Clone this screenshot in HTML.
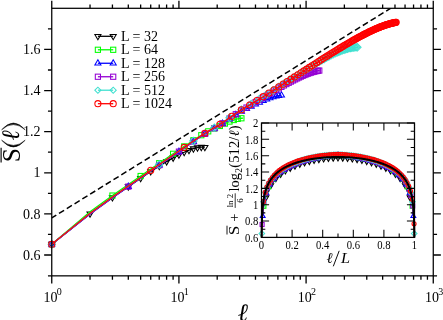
<!DOCTYPE html>
<html><head><meta charset="utf-8"><title>S(l)</title>
<style>html,body{margin:0;padding:0;background:#fff;}svg{display:block;font-family:"Liberation Serif",serif;will-change:transform;}</style></head><body>
<svg width="443" height="320" viewBox="0 0 443 320">
<rect width="443" height="320" fill="#fff"/>
<defs>
<clipPath id="cm"><rect x="51.75" y="8.30" width="381.51" height="267.55"/></clipPath>
<clipPath id="ci"><rect x="257.50" y="123.00" width="161.00" height="114.40"/></clipPath>
</defs>
<g fill="none" stroke-linejoin="miter">
<path clip-path="url(#cm)" d="M51.75 217.90L458.37 -33.62" stroke="#000" stroke-width="1.5" stroke-dasharray="6.0 3.16" stroke-dashoffset="0.65"/>
<g stroke="#000000">
<path d="M51.75 244.25L90.03 213.69L112.43 197.50L128.31 186.62L140.64 178.23L150.71 171.53L159.22 166.08L166.60 161.57L173.10 157.83L178.92 154.74L184.18 152.23L188.99 150.20L193.41 148.65L197.50 147.61L201.31 147.13L204.88 147.20" stroke-width="1.3"/>
<g stroke-width="1.05">
<path d="M51.75 247.78L48.70 242.49L54.80 242.49Z"/>
<path d="M90.03 217.21L86.98 211.93L93.08 211.93Z"/>
<path d="M112.43 201.02L109.38 195.74L115.48 195.74Z"/>
<path d="M128.31 190.15L125.26 184.86L131.36 184.86Z"/>
<path d="M140.64 181.75L137.59 176.47L143.69 176.47Z"/>
<path d="M150.71 175.05L147.66 169.77L153.76 169.77Z"/>
<path d="M159.22 169.60L156.17 164.31L162.27 164.31Z"/>
<path d="M166.60 165.09L163.55 159.81L169.65 159.81Z"/>
<path d="M173.10 161.35L170.05 156.07L176.15 156.07Z"/>
<path d="M178.92 158.26L175.87 152.98L181.97 152.98Z"/>
<path d="M184.18 155.75L181.13 150.47L187.23 150.47Z"/>
<path d="M188.99 153.72L185.94 148.44L192.04 148.44Z"/>
<path d="M193.41 152.17L190.36 146.89L196.46 146.89Z"/>
<path d="M197.50 151.14L194.45 145.85L200.55 145.85Z"/>
<path d="M201.31 150.65L198.26 145.36L204.36 145.36Z"/>
<path d="M204.88 150.72L201.83 145.44L207.93 145.44Z"/>
</g></g>
<g stroke="#00ff00">
<path d="M51.75 244.25L90.03 211.81L112.43 195.57L128.31 184.58L140.64 176.01L150.71 169.03L159.22 163.20L166.60 158.19L173.10 153.80L178.92 149.91L184.18 146.41L188.99 143.19L193.41 140.24L197.50 137.58L201.31 135.21L204.88 133.13L208.23 131.36L211.38 129.84L214.37 128.47L217.20 127.19L219.90 125.96L222.47 124.75L224.92 123.59L227.27 122.52L229.53 121.57L231.69 120.74L233.78 120.02L235.79 119.39L237.72 118.88L239.60 118.50L241.41 118.27L243.16 118.20" stroke-width="1.3"/>
<g stroke-width="1.05">
<rect x="49.16" y="241.66" width="5.18" height="5.18"/>
<rect x="109.83" y="192.98" width="5.18" height="5.18"/>
<rect x="138.05" y="173.42" width="5.18" height="5.18"/>
<rect x="156.63" y="160.61" width="5.18" height="5.18"/>
<rect x="170.51" y="151.21" width="5.18" height="5.18"/>
<rect x="181.59" y="143.81" width="5.18" height="5.18"/>
<rect x="190.82" y="137.65" width="5.18" height="5.18"/>
<rect x="198.72" y="132.61" width="5.18" height="5.18"/>
<rect x="205.63" y="128.77" width="5.18" height="5.18"/>
<rect x="211.78" y="125.88" width="5.18" height="5.18"/>
<rect x="217.30" y="123.37" width="5.18" height="5.18"/>
<rect x="222.33" y="121.00" width="5.18" height="5.18"/>
<rect x="226.93" y="118.97" width="5.18" height="5.18"/>
<rect x="231.18" y="117.43" width="5.18" height="5.18"/>
<rect x="235.13" y="116.29" width="5.18" height="5.18"/>
<rect x="238.81" y="115.68" width="5.18" height="5.18"/>
</g></g>
<g stroke="#0000ff">
<path d="M51.75 244.25L90.03 213.87L112.43 197.62L128.31 186.62L140.64 178.03L150.71 171.02L159.22 165.16L166.60 160.10L173.10 155.64L178.92 151.66L184.18 148.07L188.99 144.74L193.41 141.64L197.50 138.82L201.31 136.26L204.88 133.97L208.23 131.95L211.38 130.16L214.37 128.48L217.20 126.87L219.90 125.26L222.47 123.63L224.92 122.02L227.27 120.46L229.53 118.97L231.69 117.56L233.78 116.21L235.79 114.91L237.72 113.67L239.60 112.52L241.41 111.46L243.16 110.50L244.86 109.62L246.51 108.80L248.11 108.00L249.66 107.22L251.18 106.45L252.65 105.71L254.09 105.00L255.48 104.32L256.85 103.66L258.18 103.03L259.48 102.42L260.75 101.84L261.99 101.28L263.20 100.75L264.39 100.24L265.55 99.76L266.69 99.30L267.81 98.87L268.90 98.45L269.97 98.07L271.03 97.70L272.06 97.36L273.07 97.04L274.07 96.75L275.04 96.47L276.01 96.22L276.95 96.00L277.88 95.79L278.79 95.61L279.69 95.45L280.57 95.31L281.44 95.20" stroke-width="1.3"/>
<g stroke-width="1.05">
<path d="M51.75 240.73L48.70 246.01L54.80 246.01Z"/>
<path d="M128.31 183.10L125.26 188.38L131.36 188.38Z"/>
<path d="M159.22 161.63L156.17 166.92L162.27 166.92Z"/>
<path d="M178.92 148.14L175.87 153.43L181.97 153.43Z"/>
<path d="M193.41 138.12L190.36 143.41L196.46 143.41Z"/>
<path d="M204.88 130.44L201.83 135.73L207.93 135.73Z"/>
<path d="M214.37 124.96L211.32 130.24L217.42 130.24Z"/>
<path d="M222.47 120.11L219.42 125.39L225.52 125.39Z"/>
<path d="M229.53 115.45L226.48 120.73L232.58 120.73Z"/>
<path d="M235.79 111.39L232.74 116.67L238.84 116.67Z"/>
<path d="M241.41 107.93L238.36 113.22L244.46 113.22Z"/>
<path d="M246.51 105.27L243.46 110.56L249.56 110.56Z"/>
<path d="M251.18 102.93L248.13 108.22L254.23 108.22Z"/>
<path d="M255.48 100.80L252.43 106.08L258.53 106.08Z"/>
<path d="M259.48 98.90L256.43 104.18L262.53 104.18Z"/>
<path d="M263.20 97.23L260.15 102.51L266.25 102.51Z"/>
<path d="M266.69 95.78L263.64 101.06L269.74 101.06Z"/>
<path d="M269.97 94.55L266.92 99.83L273.02 99.83Z"/>
<path d="M273.07 93.52L270.02 98.80L276.12 98.80Z"/>
<path d="M276.01 92.70L272.96 97.99L279.06 97.99Z"/>
<path d="M278.79 92.09L275.74 97.37L281.84 97.37Z"/>
<path d="M281.44 91.68L278.39 96.96L284.49 96.96Z"/>
</g></g>
<g stroke="#9400d3">
<path d="M51.75 244.25L90.03 213.87L112.43 197.62L128.31 186.62L140.64 178.02L150.71 171.02L159.22 165.14L166.60 160.08L173.10 155.62L178.92 151.63L184.18 148.02L188.99 144.68L193.41 141.58L197.50 138.73L201.31 136.15L204.88 133.84L208.23 131.80L211.38 129.97L214.37 128.26L217.20 126.61L219.90 124.96L222.47 123.29L224.92 121.64L227.27 120.02L229.53 118.47L231.69 117.00L233.78 115.59L235.79 114.21L237.72 112.90L239.60 111.66L241.41 110.51L243.16 109.45L244.86 108.48L246.51 107.55L248.11 106.64L249.66 105.74L251.18 104.84L252.65 103.97L254.09 103.12L255.48 102.28L256.85 101.47L258.18 100.67L259.48 99.89L260.75 99.13L261.99 98.38L263.20 97.65L264.39 96.94L265.55 96.24L266.69 95.56L267.81 94.89L268.90 94.24L269.97 93.60L271.03 92.97L272.06 92.35L273.07 91.75L274.07 91.16L275.04 90.59L276.01 90.02L276.95 89.47L277.88 88.92L278.79 88.39L279.69 87.87L280.57 87.36L281.44 86.86L282.30 86.38L283.14 85.90L283.97 85.43L284.79 84.97L285.60 84.51L286.39 84.07L287.17 83.64L287.95 83.21L288.71 82.80L289.46 82.39L290.20 81.99L290.93 81.60L291.66 81.21L292.37 80.83L293.07 80.47L293.77 80.10L294.45 79.75L295.13 79.41L295.80 79.07L296.46 78.73L297.11 78.41L297.76 78.09L298.40 77.78L299.03 77.48L299.65 77.18L300.27 76.89L300.88 76.61L301.48 76.33L302.08 76.06L302.67 75.80L303.26 75.54L303.84 75.29L304.41 75.05L304.97 74.81L305.53 74.58L306.09 74.36L306.64 74.14L307.18 73.92L307.72 73.72L308.26 73.52L308.78 73.32L309.31 73.14L309.83 72.95L310.34 72.78L310.85 72.61L311.35 72.45L311.85 72.29L312.35 72.14L312.84 71.99L313.33 71.85L313.81 71.71L314.29 71.59L314.76 71.46L315.23 71.35L315.70 71.24L316.16 71.13L316.62 71.03L317.07 70.94L317.52 70.85L317.97 70.77L318.41 70.69L318.85 70.62L319.29 70.56L319.72 70.50" stroke-width="1.3"/>
<g stroke-width="1.05">
<rect x="49.16" y="241.66" width="5.18" height="5.18"/>
<rect x="125.72" y="184.02" width="5.18" height="5.18"/>
<rect x="156.63" y="162.55" width="5.18" height="5.18"/>
<rect x="176.33" y="149.04" width="5.18" height="5.18"/>
<rect x="190.82" y="138.98" width="5.18" height="5.18"/>
<rect x="202.29" y="131.24" width="5.18" height="5.18"/>
<rect x="211.78" y="125.67" width="5.18" height="5.18"/>
<rect x="219.87" y="120.70" width="5.18" height="5.18"/>
<rect x="226.93" y="115.88" width="5.18" height="5.18"/>
<rect x="233.19" y="111.62" width="5.18" height="5.18"/>
<rect x="238.81" y="107.92" width="5.18" height="5.18"/>
<rect x="243.92" y="104.95" width="5.18" height="5.18"/>
<rect x="248.59" y="102.25" width="5.18" height="5.18"/>
<rect x="252.89" y="99.69" width="5.18" height="5.18"/>
<rect x="256.89" y="97.30" width="5.18" height="5.18"/>
<rect x="260.61" y="95.06" width="5.18" height="5.18"/>
<rect x="264.10" y="92.97" width="5.18" height="5.18"/>
<rect x="267.38" y="91.00" width="5.18" height="5.18"/>
<rect x="270.48" y="89.16" width="5.18" height="5.18"/>
<rect x="273.41" y="87.43" width="5.18" height="5.18"/>
<rect x="276.20" y="85.80" width="5.18" height="5.18"/>
<rect x="278.85" y="84.27" width="5.18" height="5.18"/>
<rect x="281.38" y="82.83" width="5.18" height="5.18"/>
<rect x="283.80" y="81.48" width="5.18" height="5.18"/>
<rect x="286.12" y="80.20" width="5.18" height="5.18"/>
<rect x="288.34" y="79.00" width="5.18" height="5.18"/>
<rect x="290.48" y="77.87" width="5.18" height="5.18"/>
<rect x="292.54" y="76.81" width="5.18" height="5.18"/>
<rect x="294.52" y="75.82" width="5.18" height="5.18"/>
<rect x="296.44" y="74.89" width="5.18" height="5.18"/>
<rect x="298.29" y="74.02" width="5.18" height="5.18"/>
<rect x="300.08" y="73.21" width="5.18" height="5.18"/>
<rect x="301.82" y="72.46" width="5.18" height="5.18"/>
<rect x="303.50" y="71.76" width="5.18" height="5.18"/>
<rect x="305.13" y="71.13" width="5.18" height="5.18"/>
<rect x="306.72" y="70.54" width="5.18" height="5.18"/>
<rect x="308.26" y="70.02" width="5.18" height="5.18"/>
<rect x="309.76" y="69.54" width="5.18" height="5.18"/>
<rect x="311.22" y="69.12" width="5.18" height="5.18"/>
<rect x="312.64" y="68.75" width="5.18" height="5.18"/>
<rect x="314.03" y="68.44" width="5.18" height="5.18"/>
<rect x="315.38" y="68.18" width="5.18" height="5.18"/>
<rect x="316.70" y="67.97" width="5.18" height="5.18"/>
</g></g>
<g stroke="#40e0d0">
<path d="M51.75 244.25L90.03 213.25L112.43 197.00L128.31 186.00L140.64 177.41L150.71 170.40L159.22 164.53L166.60 159.46L173.10 155.00L178.92 151.01L184.18 147.40L188.99 144.06L193.41 140.95L197.50 138.10L201.31 135.52L204.88 133.20L208.23 131.16L211.38 129.33L214.37 127.62L217.20 125.96L219.90 124.31L222.47 122.63L224.92 120.97L227.27 119.35L229.53 117.79L231.69 116.31L233.78 114.89L235.79 113.51L237.72 112.18L239.60 110.93L241.41 109.77L243.16 108.71L244.86 107.72L246.51 106.77L248.11 105.85L249.66 104.94L251.18 104.03L252.65 103.13L254.09 102.26L255.48 101.41L256.85 100.58L258.18 99.76L259.48 98.96L260.75 98.17L261.99 97.40L263.20 96.65L264.39 95.91L265.55 95.19L266.69 94.47L267.81 93.78L268.90 93.09L269.97 92.42L271.03 91.76L272.06 91.11L273.07 90.47L274.07 89.85L275.04 89.23L276.01 88.63L276.95 88.03L277.88 87.45L278.79 86.87L279.69 86.31L280.57 85.75L281.44 85.20L282.30 84.67L283.14 84.13L283.97 83.61L284.79 83.10L285.60 82.59L286.39 82.09L287.17 81.60L287.95 81.11L288.71 80.63L289.46 80.16L290.20 79.69L290.93 79.23L291.66 78.78L292.37 78.33L293.07 77.89L293.77 77.45L294.45 77.02L295.13 76.59L295.80 76.17L296.46 75.76L297.11 75.35L297.76 74.94L298.40 74.54L299.03 74.15L299.65 73.76L300.27 73.37L300.88 72.99L301.48 72.62L302.08 72.24L302.67 71.88L303.26 71.51L303.84 71.15L304.41 70.80L304.97 70.45L305.53 70.10L306.09 69.76L306.64 69.42L307.18 69.08L307.72 68.75L308.26 68.42L308.78 68.10L309.31 67.78L309.83 67.46L310.34 67.15L310.85 66.83L311.35 66.53L311.85 66.22L312.35 65.92L312.84 65.63L313.33 65.33L313.81 65.04L314.29 64.75L314.76 64.47L315.23 64.19L315.70 63.91L316.16 63.63L316.62 63.36L317.07 63.09L317.52 62.82L317.97 62.56L318.41 62.30L318.85 62.04L319.29 61.78L319.72 61.53L320.15 61.28L320.58 61.04L321.00 60.79L321.42 60.55L321.84 60.31L322.25 60.08L322.66 59.84L323.07 59.61L323.48 59.39L323.88 59.16L324.28 58.94L324.67 58.72L325.07 58.50L325.46 58.29L325.84 58.07L326.23 57.86L326.61 57.66L326.99 57.45L327.37 57.25L327.74 57.05L328.11 56.85L328.48 56.66L328.85 56.46L329.22 56.27L329.58 56.08L329.94 55.90L330.29 55.71L330.65 55.53L331.00 55.35L331.35 55.18L331.70 55.00L332.05 54.83L332.39 54.66L332.73 54.49L333.07 54.32L333.41 54.16L333.75 54.00L334.08 53.84L334.41 53.68L334.74 53.53L335.07 53.37L335.40 53.22L335.72 53.07L336.04 52.92L336.36 52.78L336.68 52.64L337.00 52.49L337.31 52.36L337.62 52.22L337.94 52.08L338.25 51.95L338.55 51.82L338.86 51.69L339.16 51.56L339.47 51.44L339.77 51.32L340.07 51.19L340.36 51.08L340.66 50.96L340.95 50.84L341.25 50.73L341.54 50.62L341.83 50.51L342.12 50.40L342.40 50.30L342.69 50.19L342.97 50.09L343.26 49.99L343.54 49.89L343.82 49.79L344.10 49.70L344.37 49.61L344.65 49.52L344.92 49.43L345.19 49.34L345.47 49.26L345.74 49.17L346.00 49.09L346.27 49.01L346.54 48.93L346.80 48.86L347.07 48.78L347.33 48.71L347.59 48.64L347.85 48.57L348.11 48.50L348.37 48.44L348.62 48.38L348.88 48.31L349.13 48.25L349.38 48.20L349.64 48.14L349.89 48.09L350.14 48.03L350.38 47.98L350.63 47.93L350.88 47.89L351.12 47.84L351.37 47.80L351.61 47.76L351.85 47.72L352.09 47.68L352.33 47.64L352.57 47.61L352.81 47.57L353.04 47.54L353.28 47.51L353.51 47.48L353.75 47.46L353.98 47.43L354.21 47.41L354.44 47.39L354.67 47.37L354.90 47.35L355.13 47.34L355.35 47.33L355.58 47.31L355.81 47.30L356.03 47.30L356.25 47.29L356.47 47.28L356.70 47.28L356.92 47.28L357.14 47.28L357.35 47.28L357.57 47.29L357.79 47.29L358.01 47.30" stroke-width="1.3"/>
<g stroke-width="1.05">
<path d="M48.03 244.25L51.75 240.53L55.47 244.25L51.75 247.97Z"/>
<path d="M155.50 164.53L159.22 160.81L162.94 164.53L159.22 168.25Z"/>
<path d="M189.69 140.95L193.41 137.23L197.13 140.95L193.41 144.67Z"/>
<path d="M210.65 127.62L214.37 123.90L218.09 127.62L214.37 131.34Z"/>
<path d="M225.81 117.79L229.53 114.07L233.25 117.79L229.53 121.51Z"/>
<path d="M237.69 109.77L241.41 106.05L245.13 109.77L241.41 113.49Z"/>
<path d="M247.46 104.03L251.18 100.30L254.90 104.03L251.18 107.75Z"/>
<path d="M255.76 98.96L259.48 95.24L263.20 98.96L259.48 102.68Z"/>
<path d="M262.97 94.47L266.69 90.75L270.41 94.47L266.69 98.20Z"/>
<path d="M269.35 90.47L273.07 86.75L276.79 90.47L273.07 94.19Z"/>
<path d="M275.07 86.87L278.79 83.15L282.51 86.87L278.79 90.59Z"/>
<path d="M280.25 83.61L283.97 79.89L287.69 83.61L283.97 87.33Z"/>
<path d="M284.99 80.63L288.71 76.91L292.43 80.63L288.71 84.35Z"/>
<path d="M289.35 77.89L293.07 74.16L296.79 77.89L293.07 81.61Z"/>
<path d="M293.39 75.35L297.11 71.63L300.84 75.35L297.11 79.07Z"/>
<path d="M297.16 72.99L300.88 69.27L304.60 72.99L300.88 76.71Z"/>
<path d="M300.69 70.80L304.41 67.08L308.13 70.80L304.41 74.52Z"/>
<path d="M304.00 68.75L307.72 65.03L311.44 68.75L307.72 72.47Z"/>
<path d="M307.13 66.83L310.85 63.11L314.57 66.83L310.85 70.56Z"/>
<path d="M310.09 65.04L313.81 61.32L317.53 65.04L313.81 68.76Z"/>
<path d="M312.90 63.36L316.62 59.64L320.34 63.36L316.62 67.08Z"/>
<path d="M315.57 61.78L319.29 58.06L323.01 61.78L319.29 65.51Z"/>
<path d="M318.12 60.31L321.84 56.59L325.56 60.31L321.84 64.03Z"/>
<path d="M320.56 58.94L324.28 55.22L328.00 58.94L324.28 62.66Z"/>
<path d="M322.89 57.66L326.61 53.94L330.33 57.66L326.61 61.38Z"/>
<path d="M325.13 56.46L328.85 52.74L332.57 56.46L328.85 60.18Z"/>
<path d="M327.28 55.35L331.00 51.63L334.72 55.35L331.00 59.07Z"/>
<path d="M329.35 54.32L333.07 50.60L336.79 54.32L333.07 58.04Z"/>
<path d="M331.35 53.37L335.07 49.65L338.79 53.37L335.07 57.09Z"/>
<path d="M333.28 52.49L337.00 48.77L340.72 52.49L337.00 56.22Z"/>
<path d="M335.14 51.69L338.86 47.97L342.58 51.69L338.86 55.41Z"/>
<path d="M336.94 50.96L340.66 47.24L344.38 50.96L340.66 54.68Z"/>
<path d="M338.68 50.30L342.40 46.57L346.13 50.30L342.40 54.02Z"/>
<path d="M340.37 49.70L344.10 45.98L347.82 49.70L344.10 53.42Z"/>
<path d="M342.01 49.17L345.74 45.45L349.46 49.17L345.74 52.89Z"/>
<path d="M343.61 48.71L347.33 44.99L351.05 48.71L347.33 52.43Z"/>
<path d="M345.16 48.31L348.88 44.59L352.60 48.31L348.88 52.04Z"/>
<path d="M346.66 47.98L350.38 44.26L354.10 47.98L350.38 51.70Z"/>
<path d="M348.13 47.72L351.85 43.99L355.57 47.72L351.85 51.44Z"/>
<path d="M349.56 47.51L353.28 43.79L357.00 47.51L353.28 51.23Z"/>
<path d="M350.95 47.37L354.67 43.65L358.39 47.37L354.67 51.09Z"/>
<path d="M352.31 47.30L356.03 43.57L359.75 47.30L356.03 51.02Z"/>
<path d="M353.63 47.28L357.35 43.56L361.08 47.28L357.35 51.00Z"/>
</g></g>
<g stroke="#ff0000">
<path d="M51.75 244.25L90.03 213.25L112.43 197.00L128.31 186.00L140.64 177.41L150.71 170.40L159.22 164.53L166.60 159.46L173.10 155.00L178.92 151.02L184.18 147.41L188.99 144.06L193.41 140.96L197.50 138.11L201.31 135.53L204.88 133.21L208.23 131.17L211.38 129.34L214.37 127.63L217.20 125.98L219.90 124.32L222.47 122.65L224.92 120.99L227.27 119.37L229.53 117.81L231.69 116.34L233.78 114.91L235.79 113.53L237.72 112.21L239.60 110.96L241.41 109.80L243.16 108.74L244.86 107.75L246.51 106.80L248.11 105.88L249.66 104.97L251.18 104.06L252.65 103.17L254.09 102.30L255.48 101.44L256.85 100.61L258.18 99.79L259.48 98.99L260.75 98.21L261.99 97.44L263.20 96.69L264.39 95.95L265.55 95.22L266.69 94.51L267.81 93.81L268.90 93.12L269.97 92.45L271.03 91.79L272.06 91.14L273.07 90.50L274.07 89.87L275.04 89.26L276.01 88.65L276.95 88.05L277.88 87.47L278.79 86.89L279.69 86.32L280.57 85.76L281.44 85.21L282.30 84.67L283.14 84.14L283.97 83.61L284.79 83.09L285.60 82.58L286.39 82.08L287.17 81.58L287.95 81.09L288.71 80.61L289.46 80.13L290.20 79.66L290.93 79.19L291.66 78.73L292.37 78.28L293.07 77.83L293.77 77.39L294.45 76.95L295.13 76.52L295.80 76.09L296.46 75.67L297.11 75.25L297.76 74.83L298.40 74.43L299.03 74.02L299.65 73.62L300.27 73.23L300.88 72.84L301.48 72.45L302.08 72.07L302.67 71.69L303.26 71.32L303.84 70.95L304.41 70.58L304.97 70.22L305.53 69.86L306.09 69.50L306.64 69.15L307.18 68.80L307.72 68.45L308.26 68.11L308.78 67.77L309.31 67.44L309.83 67.10L310.34 66.77L310.85 66.45L311.35 66.12L311.85 65.80L312.35 65.49L312.84 65.17L313.33 64.86L313.81 64.55L314.29 64.24L314.76 63.94L315.23 63.64L315.70 63.34L316.16 63.04L316.62 62.75L317.07 62.46L317.52 62.17L317.97 61.88L318.41 61.60L318.85 61.31L319.29 61.03L319.72 60.76L320.15 60.48L320.58 60.21L321.00 59.94L321.42 59.67L321.84 59.41L322.25 59.14L322.66 58.88L323.07 58.62L323.48 58.37L323.88 58.11L324.28 57.86L324.67 57.61L325.07 57.36L325.46 57.11L325.84 56.87L326.23 56.63L326.61 56.38L326.99 56.14L327.37 55.91L327.74 55.67L328.11 55.44L328.48 55.21L328.85 54.98L329.22 54.75L329.58 54.52L329.94 54.30L330.29 54.07L330.65 53.85L331.00 53.63L331.35 53.41L331.70 53.20L332.05 52.98L332.39 52.77L332.73 52.55L333.07 52.34L333.41 52.13L333.75 51.93L334.08 51.72L334.41 51.52L334.74 51.31L335.07 51.11L335.40 50.91L335.72 50.71L336.04 50.51L336.36 50.32L336.68 50.12L337.00 49.93L337.31 49.73L337.62 49.54L337.94 49.35L338.25 49.16L338.55 48.98L338.86 48.79L339.16 48.61L339.47 48.42L339.77 48.24L340.07 48.06L340.36 47.88L340.66 47.70L340.95 47.52L341.25 47.34L341.54 47.17L341.83 46.99L342.12 46.82L342.40 46.65L342.69 46.48L342.97 46.31L343.26 46.14L343.54 45.97L343.82 45.81L344.10 45.64L344.37 45.47L344.65 45.31L344.92 45.15L345.19 44.99L345.47 44.83L345.74 44.67L346.00 44.51L346.27 44.35L346.54 44.19L346.80 44.04L347.07 43.88L347.33 43.73L347.59 43.58L347.85 43.42L348.11 43.27L348.37 43.12L348.62 42.97L348.88 42.83L349.13 42.68L349.38 42.53L349.64 42.39L349.89 42.24L350.14 42.10L350.38 41.95L350.63 41.81L350.88 41.67L351.12 41.53L351.37 41.39L351.61 41.25L351.85 41.11L352.09 40.98L352.33 40.84L352.57 40.70L352.81 40.57L353.04 40.44L353.28 40.30L353.51 40.17L353.75 40.04L353.98 39.91L354.21 39.78L354.44 39.65L354.67 39.52L354.90 39.39L355.13 39.26L355.35 39.14L355.58 39.01L355.81 38.89L356.03 38.76L356.25 38.64L356.47 38.52L356.70 38.39L356.92 38.27L357.14 38.15L357.35 38.03L357.57 37.91L357.79 37.79L358.01 37.67L358.22 37.56L358.44 37.44L358.65 37.32L358.86 37.21L359.07 37.09L359.29 36.98L359.50 36.87L359.71 36.75L359.91 36.64L360.12 36.53L360.33 36.42L360.54 36.31L360.74 36.20L360.95 36.09L361.15 35.98L361.35 35.87L361.56 35.76L361.76 35.66L361.96 35.55L362.16 35.45L362.36 35.34L362.56 35.24L362.76 35.13L362.96 35.03L363.15 34.93L363.35 34.83L363.54 34.72L363.74 34.62L363.93 34.52L364.13 34.42L364.32 34.32L364.51 34.23L364.70 34.13L364.89 34.03L365.08 33.93L365.27 33.84L365.46 33.74L365.65 33.64L365.84 33.55L366.02 33.46L366.21 33.36L366.40 33.27L366.58 33.18L366.77 33.08L366.95 32.99L367.13 32.90L367.32 32.81L367.50 32.72L367.68 32.63L367.86 32.54L368.04 32.45L368.22 32.36L368.40 32.28L368.58 32.19L368.75 32.10L368.93 32.02L369.11 31.93L369.28 31.84L369.46 31.76L369.64 31.68L369.81 31.59L369.98 31.51L370.16 31.43L370.33 31.34L370.50 31.26L370.67 31.18L370.85 31.10L371.02 31.02L371.19 30.94L371.36 30.86L371.53 30.78L371.69 30.70L371.86 30.62L372.03 30.54L372.20 30.47L372.36 30.39L372.53 30.31L372.69 30.24L372.86 30.16L373.02 30.09L373.19 30.01L373.35 29.94L373.52 29.86L373.68 29.79L373.84 29.72L374.00 29.64L374.16 29.57L374.32 29.50L374.48 29.43L374.64 29.36L374.80 29.29L374.96 29.22L375.12 29.15L375.28 29.08L375.44 29.01L375.59 28.94L375.75 28.87L375.91 28.80L376.06 28.74L376.22 28.67L376.37 28.60L376.53 28.54L376.68 28.47L376.83 28.41L376.99 28.34L377.14 28.28L377.29 28.21L377.45 28.15L377.60 28.09L377.75 28.02L377.90 27.96L378.05 27.90L378.20 27.84L378.35 27.77L378.50 27.71L378.65 27.65L378.79 27.59L378.94 27.53L379.09 27.47L379.24 27.41L379.38 27.35L379.53 27.29L379.68 27.24L379.82 27.18L379.97 27.12L380.11 27.06L380.26 27.01L380.40 26.95L380.54 26.89L380.69 26.84L380.83 26.78L380.97 26.73L381.11 26.67L381.26 26.62L381.40 26.57L381.54 26.51L381.68 26.46L381.82 26.41L381.96 26.35L382.10 26.30L382.24 26.25L382.38 26.20L382.52 26.15L382.65 26.10L382.79 26.05L382.93 26.00L383.07 25.95L383.20 25.90L383.34 25.85L383.48 25.80L383.61 25.75L383.75 25.70L383.88 25.65L384.02 25.61L384.15 25.56L384.29 25.51L384.42 25.46L384.55 25.42L384.69 25.37L384.82 25.33L384.95 25.28L385.08 25.24L385.22 25.19L385.35 25.15L385.48 25.10L385.61 25.06L385.74 25.02L385.87 24.97L386.00 24.93L386.13 24.89L386.26 24.85L386.39 24.80L386.52 24.76L386.65 24.72L386.78 24.68L386.90 24.64L387.03 24.60L387.16 24.56L387.29 24.52L387.41 24.48L387.54 24.44L387.67 24.40L387.79 24.36L387.92 24.33L388.04 24.29L388.17 24.25L388.29 24.21L388.42 24.18L388.54 24.14L388.67 24.10L388.79 24.07L388.91 24.03L389.04 23.99L389.16 23.96L389.28 23.92L389.40 23.89L389.53 23.85L389.65 23.82L389.77 23.79L389.89 23.75L390.01 23.72L390.13 23.69L390.25 23.65L390.37 23.62L390.49 23.59L390.61 23.56L390.73 23.53L390.85 23.49L390.97 23.46L391.09 23.43L391.21 23.40L391.33 23.37L391.44 23.34L391.56 23.31L391.68 23.28L391.80 23.25L391.91 23.22L392.03 23.20L392.15 23.17L392.26 23.14L392.38 23.11L392.49 23.08L392.61 23.06L392.72 23.03L392.84 23.00L392.95 22.98L393.07 22.95L393.18 22.92L393.30 22.90L393.41 22.87L393.52 22.85L393.64 22.82L393.75 22.80L393.86 22.77L393.97 22.75L394.09 22.72L394.20 22.70L394.31 22.68L394.42 22.65L394.53 22.63L394.65 22.61L394.76 22.59L394.87 22.56L394.98 22.54L395.09 22.52L395.20 22.50L395.31 22.48L395.42 22.46L395.53 22.44L395.64 22.42L395.75 22.40L395.85 22.38L395.96 22.36L396.07 22.34L396.18 22.32L396.29 22.30" stroke-width="1.3"/>
<g stroke-width="1.05">
<circle cx="51.75" cy="244.25" r="3.05"/>
<circle cx="150.71" cy="170.40" r="3.05"/>
<circle cx="184.18" cy="147.41" r="3.05"/>
<circle cx="204.88" cy="133.21" r="3.05"/>
<circle cx="219.90" cy="124.32" r="3.05"/>
<circle cx="231.69" cy="116.34" r="3.05"/>
<circle cx="241.41" cy="109.80" r="3.05"/>
<circle cx="249.66" cy="104.97" r="3.05"/>
<circle cx="256.85" cy="100.61" r="3.05"/>
<circle cx="263.20" cy="96.69" r="3.05"/>
<circle cx="268.90" cy="93.12" r="3.05"/>
<circle cx="274.07" cy="89.87" r="3.05"/>
<circle cx="278.79" cy="86.89" r="3.05"/>
<circle cx="283.14" cy="84.14" r="3.05"/>
<circle cx="287.17" cy="81.58" r="3.05"/>
<circle cx="290.93" cy="79.19" r="3.05"/>
<circle cx="294.45" cy="76.95" r="3.05"/>
<circle cx="297.76" cy="74.83" r="3.05"/>
<circle cx="300.88" cy="72.84" r="3.05"/>
<circle cx="303.84" cy="70.95" r="3.05"/>
<circle cx="306.64" cy="69.15" r="3.05"/>
<circle cx="309.31" cy="67.44" r="3.05"/>
<circle cx="311.85" cy="65.80" r="3.05"/>
<circle cx="314.29" cy="64.24" r="3.05"/>
<circle cx="316.62" cy="62.75" r="3.05"/>
<circle cx="318.85" cy="61.31" r="3.05"/>
<circle cx="321.00" cy="59.94" r="3.05"/>
<circle cx="323.07" cy="58.62" r="3.05"/>
<circle cx="325.07" cy="57.36" r="3.05"/>
<circle cx="326.99" cy="56.14" r="3.05"/>
<circle cx="328.85" cy="54.98" r="3.05"/>
<circle cx="330.65" cy="53.85" r="3.05"/>
<circle cx="332.39" cy="52.77" r="3.05"/>
<circle cx="334.08" cy="51.72" r="3.05"/>
<circle cx="335.72" cy="50.71" r="3.05"/>
<circle cx="337.31" cy="49.73" r="3.05"/>
<circle cx="338.86" cy="48.79" r="3.05"/>
<circle cx="340.36" cy="47.88" r="3.05"/>
<circle cx="341.83" cy="46.99" r="3.05"/>
<circle cx="343.26" cy="46.14" r="3.05"/>
<circle cx="344.65" cy="45.31" r="3.05"/>
<circle cx="346.00" cy="44.51" r="3.05"/>
<circle cx="347.33" cy="43.73" r="3.05"/>
<circle cx="348.62" cy="42.97" r="3.05"/>
<circle cx="349.89" cy="42.24" r="3.05"/>
<circle cx="351.12" cy="41.53" r="3.05"/>
<circle cx="352.33" cy="40.84" r="3.05"/>
<circle cx="353.51" cy="40.17" r="3.05"/>
<circle cx="354.67" cy="39.52" r="3.05"/>
<circle cx="355.81" cy="38.89" r="3.05"/>
<circle cx="356.92" cy="38.27" r="3.05"/>
<circle cx="358.01" cy="37.67" r="3.05"/>
<circle cx="359.07" cy="37.09" r="3.05"/>
<circle cx="360.12" cy="36.53" r="3.05"/>
<circle cx="361.15" cy="35.98" r="3.05"/>
<circle cx="362.16" cy="35.45" r="3.05"/>
<circle cx="363.15" cy="34.93" r="3.05"/>
<circle cx="364.13" cy="34.42" r="3.05"/>
<circle cx="365.08" cy="33.93" r="3.05"/>
<circle cx="366.02" cy="33.46" r="3.05"/>
<circle cx="366.95" cy="32.99" r="3.05"/>
<circle cx="367.86" cy="32.54" r="3.05"/>
<circle cx="368.75" cy="32.10" r="3.05"/>
<circle cx="369.64" cy="31.68" r="3.05"/>
<circle cx="370.50" cy="31.26" r="3.05"/>
<circle cx="371.36" cy="30.86" r="3.05"/>
<circle cx="372.20" cy="30.47" r="3.05"/>
<circle cx="373.02" cy="30.09" r="3.05"/>
<circle cx="373.84" cy="29.72" r="3.05"/>
<circle cx="374.64" cy="29.36" r="3.05"/>
<circle cx="375.44" cy="29.01" r="3.05"/>
<circle cx="376.22" cy="28.67" r="3.05"/>
<circle cx="376.99" cy="28.34" r="3.05"/>
<circle cx="377.75" cy="28.02" r="3.05"/>
<circle cx="378.50" cy="27.71" r="3.05"/>
<circle cx="379.24" cy="27.41" r="3.05"/>
<circle cx="379.97" cy="27.12" r="3.05"/>
<circle cx="380.69" cy="26.84" r="3.05"/>
<circle cx="381.40" cy="26.57" r="3.05"/>
<circle cx="382.10" cy="26.30" r="3.05"/>
<circle cx="382.79" cy="26.05" r="3.05"/>
<circle cx="383.48" cy="25.80" r="3.05"/>
<circle cx="384.15" cy="25.56" r="3.05"/>
<circle cx="384.82" cy="25.33" r="3.05"/>
<circle cx="385.48" cy="25.10" r="3.05"/>
<circle cx="386.13" cy="24.89" r="3.05"/>
<circle cx="386.78" cy="24.68" r="3.05"/>
<circle cx="387.41" cy="24.48" r="3.05"/>
<circle cx="388.04" cy="24.29" r="3.05"/>
<circle cx="388.67" cy="24.10" r="3.05"/>
<circle cx="389.28" cy="23.92" r="3.05"/>
<circle cx="389.89" cy="23.75" r="3.05"/>
<circle cx="390.49" cy="23.59" r="3.05"/>
<circle cx="391.09" cy="23.43" r="3.05"/>
<circle cx="391.68" cy="23.28" r="3.05"/>
<circle cx="392.26" cy="23.14" r="3.05"/>
<circle cx="392.84" cy="23.00" r="3.05"/>
<circle cx="393.41" cy="22.87" r="3.05"/>
<circle cx="393.97" cy="22.75" r="3.05"/>
<circle cx="394.53" cy="22.63" r="3.05"/>
<circle cx="395.09" cy="22.52" r="3.05"/>
<circle cx="395.64" cy="22.42" r="3.05"/>
<circle cx="396.18" cy="22.32" r="3.05"/>
</g></g>
</g>
<g stroke="#000" stroke-width="1.25" fill="none" stroke-linecap="butt">
<rect x="51.75" y="8.30" width="381.51" height="267.55"/>
<path d="M51.75 275.85v7.6M51.75 8.30v-7.6M90.03 275.85v3.8M90.03 8.30v-3.8M112.43 275.85v3.8M112.43 8.30v-3.8M128.31 275.85v3.8M128.31 8.30v-3.8M140.64 275.85v3.8M140.64 8.30v-3.8M150.71 275.85v3.8M150.71 8.30v-3.8M159.22 275.85v3.8M159.22 8.30v-3.8M166.60 275.85v3.8M166.60 8.30v-3.8M173.10 275.85v3.8M173.10 8.30v-3.8M178.92 275.85v7.6M178.92 8.30v-7.6M217.20 275.85v3.8M217.20 8.30v-3.8M239.60 275.85v3.8M239.60 8.30v-3.8M255.48 275.85v3.8M255.48 8.30v-3.8M267.81 275.85v3.8M267.81 8.30v-3.8M277.88 275.85v3.8M277.88 8.30v-3.8M286.39 275.85v3.8M286.39 8.30v-3.8M293.77 275.85v3.8M293.77 8.30v-3.8M300.27 275.85v3.8M300.27 8.30v-3.8M306.09 275.85v7.6M306.09 8.30v-7.6M344.37 275.85v3.8M344.37 8.30v-3.8M366.77 275.85v3.8M366.77 8.30v-3.8M382.65 275.85v3.8M382.65 8.30v-3.8M394.98 275.85v3.8M394.98 8.30v-3.8M405.05 275.85v3.8M405.05 8.30v-3.8M413.56 275.85v3.8M413.56 8.30v-3.8M420.94 275.85v3.8M420.94 8.30v-3.8M427.44 275.85v3.8M427.44 8.30v-3.8M433.26 275.85v7.6M433.26 8.30v-7.6M51.75 275.85h-3.8M433.26 275.85h3.8M51.75 255.02h-7.6M433.26 255.02h7.6M51.75 234.46h-3.8M433.26 234.46h3.8M51.75 213.90h-7.6M433.26 213.90h7.6M51.75 193.34h-3.8M433.26 193.34h3.8M51.75 172.78h-7.6M433.26 172.78h7.6M51.75 152.22h-3.8M433.26 152.22h3.8M51.75 131.66h-7.6M433.26 131.66h7.6M51.75 111.10h-3.8M433.26 111.10h3.8M51.75 90.54h-7.6M433.26 90.54h7.6M51.75 69.98h-3.8M433.26 69.98h3.8M51.75 49.42h-7.6M433.26 49.42h7.6M51.75 28.86h-3.8M433.26 28.86h3.8" stroke-width="1.3"/>
</g>
<g font-size="14" fill="#000">
<text x="40.6" y="259.72" text-anchor="end">0.6</text>
<text x="40.6" y="218.60" text-anchor="end">0.8</text>
<text x="40.6" y="177.48" text-anchor="end">1</text>
<text x="40.6" y="136.36" text-anchor="end">1.2</text>
<text x="40.6" y="95.24" text-anchor="end">1.4</text>
<text x="40.6" y="54.12" text-anchor="end">1.6</text>
<text x="43.45" y="301.8">10<tspan font-size="10" dx="-0.8" dy="-7.2">0</tspan></text>
<text x="170.62" y="301.8">10<tspan font-size="10" dx="-0.8" dy="-7.2">1</tspan></text>
<text x="297.79" y="301.8">10<tspan font-size="10" dx="-0.8" dy="-7.2">2</tspan></text>
<text x="424.96" y="301.8">10<tspan font-size="10" dx="-0.8" dy="-7.2">3</tspan></text>
</g>
<text x="237.6" y="320.5" font-size="25" font-style="italic">&#8467;</text>
<g transform="translate(20.4,162) rotate(-90)" fill="#000"><text x="-0.3" y="0" font-size="25.5">S</text><path d="M-0.5 -19.3H14.3" stroke="#000" stroke-width="1.15"/><path d="M21.8 -18.8Q8.2 -7 21.8 4.8Q11.4 -7 21.8 -18.8Z" stroke="#000" stroke-width="0.5" stroke-linejoin="round"/><text x="21.2" y="-1.2" font-size="25" font-style="italic">&#8467;</text><path d="M32.2 -18.8Q45.8 -7 32.2 4.8Q42.6 -7 32.2 -18.8Z" stroke="#000" stroke-width="0.5" stroke-linejoin="round"/></g>
<g fill="none">
<g stroke="#000000"><path d="M97.9 36.30H113.2" stroke-width="1.3"/><g stroke-width="1.05"><path d="M97.90 39.82L94.85 34.54L100.95 34.54Z"/><path d="M113.20 39.82L110.15 34.54L116.25 34.54Z"/></g></g>
<text x="121" y="40.90" font-size="14" fill="#000" stroke="none">L = 32</text>
<g stroke="#00ff00"><path d="M97.9 49.78H113.2" stroke-width="1.3"/><g stroke-width="1.05"><rect x="95.31" y="47.19" width="5.18" height="5.18"/><rect x="110.61" y="47.19" width="5.18" height="5.18"/></g></g>
<text x="121" y="54.38" font-size="14" fill="#000" stroke="none">L = 64</text>
<g stroke="#0000ff"><path d="M97.9 63.26H113.2" stroke-width="1.3"/><g stroke-width="1.05"><path d="M97.90 59.74L94.85 65.02L100.95 65.02Z"/><path d="M113.20 59.74L110.15 65.02L116.25 65.02Z"/></g></g>
<text x="121" y="67.86" font-size="14" fill="#000" stroke="none">L = 128</text>
<g stroke="#9400d3"><path d="M97.9 76.74H113.2" stroke-width="1.3"/><g stroke-width="1.05"><rect x="95.31" y="74.15" width="5.18" height="5.18"/><rect x="110.61" y="74.15" width="5.18" height="5.18"/></g></g>
<text x="121" y="81.34" font-size="14" fill="#000" stroke="none">L = 256</text>
<g stroke="#40e0d0"><path d="M97.9 90.22H113.2" stroke-width="1.3"/><g stroke-width="1.05"><path d="M94.85 90.22L97.90 87.17L100.95 90.22L97.90 93.27Z"/><path d="M110.15 90.22L113.20 87.17L116.25 90.22L113.20 93.27Z"/></g></g>
<text x="121" y="94.82" font-size="14" fill="#000" stroke="none">L = 512</text>
<g stroke="#ff0000"><path d="M97.9 103.70H113.2" stroke-width="1.3"/><g stroke-width="1.05"><circle cx="97.90" cy="103.70" r="3.05"/><circle cx="113.20" cy="103.70" r="3.05"/></g></g>
<text x="121" y="108.30" font-size="14" fill="#000" stroke="none">L = 1024</text>
</g>
<rect x="261.50" y="123.00" width="153.00" height="114.40" fill="#fff"/>
<g fill="none">
<g stroke="#000000">
<path clip-path="url(#ci)" d="M266.28 197.32L271.06 185.17L275.84 178.74L280.62 174.41L285.41 171.08L290.19 168.40L294.97 166.23L299.75 164.42L304.53 162.91L309.31 161.65L314.09 160.60L318.88 159.73L323.66 159.04L328.44 158.53L333.22 158.21L338.00 158.10L342.78 158.21L347.56 158.53L352.34 159.04L357.12 159.73L361.91 160.60L366.69 161.65L371.47 162.91L376.25 164.42L381.03 166.23L385.81 168.40L390.59 171.08L395.38 174.41L400.16 178.74L404.94 185.17L409.72 197.32" stroke-width="1.3"/>
<g stroke-width="1.1">
<path d="M266.28 200.23L263.76 195.87L268.80 195.87Z"/>
<path d="M271.06 188.08L268.54 183.72L273.58 183.72Z"/>
<path d="M275.84 181.65L273.32 177.28L278.36 177.28Z"/>
<path d="M280.62 177.32L278.11 172.96L283.14 172.96Z"/>
<path d="M285.41 173.99L282.89 169.62L287.93 169.62Z"/>
<path d="M290.19 171.31L287.67 166.95L292.71 166.95Z"/>
<path d="M294.97 169.14L292.45 164.77L297.49 164.77Z"/>
<path d="M299.75 167.33L297.23 162.96L302.27 162.96Z"/>
<path d="M304.53 165.82L302.01 161.45L307.05 161.45Z"/>
<path d="M309.31 164.56L306.79 160.19L311.83 160.19Z"/>
<path d="M314.09 163.51L311.57 159.15L316.61 159.15Z"/>
<path d="M318.88 162.64L316.36 158.28L321.39 158.28Z"/>
<path d="M323.66 161.95L321.14 157.58L326.18 157.58Z"/>
<path d="M328.44 161.44L325.92 157.08L330.96 157.08Z"/>
<path d="M333.22 161.12L330.70 156.76L335.74 156.76Z"/>
<path d="M338.00 161.00L335.48 156.64L340.52 156.64Z"/>
<path d="M342.78 161.12L340.26 156.76L345.30 156.76Z"/>
<path d="M347.56 161.44L345.04 157.08L350.08 157.08Z"/>
<path d="M352.34 161.95L349.82 157.58L354.86 157.58Z"/>
<path d="M357.12 162.64L354.61 158.28L359.64 158.28Z"/>
<path d="M361.91 163.51L359.39 159.15L364.43 159.15Z"/>
<path d="M366.69 164.56L364.17 160.19L369.21 160.19Z"/>
<path d="M371.47 165.82L368.95 161.45L373.99 161.45Z"/>
<path d="M376.25 167.33L373.73 162.96L378.77 162.96Z"/>
<path d="M381.03 169.14L378.51 164.77L383.55 164.77Z"/>
<path d="M385.81 171.31L383.29 166.95L388.33 166.95Z"/>
<path d="M390.59 173.99L388.07 169.62L393.11 169.62Z"/>
<path d="M395.38 177.32L392.86 172.96L397.89 172.96Z"/>
<path d="M400.16 181.65L397.64 177.28L402.68 177.28Z"/>
<path d="M404.94 188.08L402.42 183.72L407.46 183.72Z"/>
<path d="M409.72 200.23L407.20 195.87L412.24 195.87Z"/>
</g></g>
<g stroke="#00ff00">
<path clip-path="url(#ci)" d="M263.89 206.27L266.28 193.38L268.67 186.92L271.06 182.56L273.45 179.15L275.84 176.37L278.23 174.05L280.62 172.06L283.02 170.31L285.41 168.76L287.80 167.36L290.19 166.08L292.58 164.89L294.97 163.82L297.36 162.86L299.75 162.01L302.14 161.29L304.53 160.65L306.92 160.07L309.31 159.52L311.70 158.98L314.09 158.45L316.48 157.92L318.88 157.43L321.27 156.96L323.66 156.54L326.05 156.15L328.44 155.78L330.83 155.45L333.22 155.16L335.61 154.91L338.00 154.70L340.39 154.91L342.78 155.16L345.17 155.45L347.56 155.78L349.95 156.15L352.34 156.54L354.73 156.96L357.12 157.43L359.52 157.92L361.91 158.45L364.30 158.98L366.69 159.52L369.08 160.07L371.47 160.65L373.86 161.29L376.25 162.01L378.64 162.86L381.03 163.82L383.42 164.89L385.81 166.08L388.20 167.36L390.59 168.76L392.98 170.31L395.38 172.06L397.77 174.05L400.16 176.37L402.55 179.15L404.94 182.56L407.33 186.92L409.72 193.38L412.11 206.27" stroke-width="1.3"/>
<g stroke-width="1.1">
<rect x="261.89" y="204.27" width="4.00" height="4.00"/>
<rect x="266.67" y="184.92" width="4.00" height="4.00"/>
<rect x="271.45" y="177.15" width="4.00" height="4.00"/>
<rect x="276.24" y="172.06" width="4.00" height="4.00"/>
<rect x="281.02" y="168.31" width="4.00" height="4.00"/>
<rect x="285.80" y="165.36" width="4.00" height="4.00"/>
<rect x="290.58" y="162.89" width="4.00" height="4.00"/>
<rect x="295.36" y="160.86" width="4.00" height="4.00"/>
<rect x="300.14" y="159.29" width="4.00" height="4.00"/>
<rect x="304.92" y="158.07" width="4.00" height="4.00"/>
<rect x="309.70" y="156.98" width="4.00" height="4.00"/>
<rect x="314.49" y="155.92" width="4.00" height="4.00"/>
<rect x="319.27" y="154.96" width="4.00" height="4.00"/>
<rect x="324.05" y="154.15" width="4.00" height="4.00"/>
<rect x="328.83" y="153.45" width="4.00" height="4.00"/>
<rect x="333.61" y="152.91" width="4.00" height="4.00"/>
<rect x="338.39" y="152.91" width="4.00" height="4.00"/>
<rect x="343.17" y="153.45" width="4.00" height="4.00"/>
<rect x="347.95" y="154.15" width="4.00" height="4.00"/>
<rect x="352.74" y="154.96" width="4.00" height="4.00"/>
<rect x="357.52" y="155.92" width="4.00" height="4.00"/>
<rect x="362.30" y="156.98" width="4.00" height="4.00"/>
<rect x="367.08" y="158.07" width="4.00" height="4.00"/>
<rect x="371.86" y="159.29" width="4.00" height="4.00"/>
<rect x="376.64" y="160.86" width="4.00" height="4.00"/>
<rect x="381.42" y="162.89" width="4.00" height="4.00"/>
<rect x="386.20" y="165.36" width="4.00" height="4.00"/>
<rect x="390.99" y="168.31" width="4.00" height="4.00"/>
<rect x="395.77" y="172.06" width="4.00" height="4.00"/>
<rect x="400.55" y="177.15" width="4.00" height="4.00"/>
<rect x="405.33" y="184.92" width="4.00" height="4.00"/>
<rect x="410.11" y="204.27" width="4.00" height="4.00"/>
</g></g>
<g stroke="#0000ff">
<path clip-path="url(#ci)" d="M262.70 216.04L263.89 203.96L265.09 197.50L266.28 193.13L267.48 189.72L268.67 186.93L269.87 184.60L271.06 182.59L272.26 180.82L273.45 179.24L274.65 177.81L275.84 176.48L277.04 175.25L278.23 174.13L279.43 173.11L280.62 172.20L281.82 171.40L283.02 170.68L284.21 170.01L285.41 169.37L286.60 168.72L287.80 168.07L288.99 167.43L290.19 166.80L291.38 166.20L292.58 165.64L293.77 165.09L294.97 164.57L296.16 164.06L297.36 163.59L298.55 163.16L299.75 162.77L300.95 162.40L302.14 162.06L303.34 161.73L304.53 161.40L305.73 161.07L306.92 160.75L308.12 160.45L309.31 160.15L310.51 159.86L311.70 159.58L312.90 159.30L314.09 159.03L315.29 158.78L316.48 158.52L317.68 158.28L318.88 158.04L320.07 157.81L321.27 157.59L322.46 157.37L323.66 157.15L324.85 156.95L326.05 156.75L327.24 156.55L328.44 156.36L329.63 156.17L330.83 155.99L332.02 155.82L333.22 155.65L334.41 155.48L335.61 155.31L336.80 155.16L338.00 155.00L339.20 155.16L340.39 155.31L341.59 155.48L342.78 155.65L343.98 155.82L345.17 155.99L346.37 156.17L347.56 156.36L348.76 156.55L349.95 156.75L351.15 156.95L352.34 157.15L353.54 157.37L354.73 157.59L355.93 157.81L357.12 158.04L358.32 158.28L359.52 158.52L360.71 158.78L361.91 159.03L363.10 159.30L364.30 159.58L365.49 159.86L366.69 160.15L367.88 160.45L369.08 160.75L370.27 161.07L371.47 161.40L372.66 161.73L373.86 162.06L375.05 162.40L376.25 162.77L377.45 163.16L378.64 163.59L379.84 164.06L381.03 164.57L382.23 165.09L383.42 165.64L384.62 166.20L385.81 166.80L387.01 167.43L388.20 168.07L389.40 168.72L390.59 169.37L391.79 170.01L392.98 170.68L394.18 171.40L395.38 172.20L396.57 173.11L397.77 174.13L398.96 175.25L400.16 176.48L401.35 177.81L402.55 179.24L403.74 180.82L404.94 182.59L406.13 184.60L407.33 186.93L408.52 189.72L409.72 193.13L410.91 197.50L412.11 203.96L413.30 216.04" stroke-width="1.3"/>
<g stroke-width="1.1">
<path d="M262.70 213.25L260.28 217.43L265.11 217.43Z"/>
<path d="M266.28 190.34L263.87 194.53L268.70 194.53Z"/>
<path d="M269.87 181.81L267.45 186.00L272.28 186.00Z"/>
<path d="M273.45 176.45L271.04 180.63L275.87 180.63Z"/>
<path d="M277.04 172.47L274.62 176.65L279.45 176.65Z"/>
<path d="M280.62 169.41L278.21 173.59L283.04 173.59Z"/>
<path d="M284.21 167.22L281.80 171.41L286.63 171.41Z"/>
<path d="M287.80 165.28L285.38 169.47L290.21 169.47Z"/>
<path d="M291.38 163.41L288.97 167.60L293.80 167.60Z"/>
<path d="M294.97 161.78L292.55 165.96L297.38 165.96Z"/>
<path d="M298.55 160.37L296.14 164.55L300.97 164.55Z"/>
<path d="M302.14 159.27L299.73 163.45L304.56 163.45Z"/>
<path d="M305.73 158.28L303.31 162.46L308.14 162.46Z"/>
<path d="M309.31 157.36L306.90 161.54L311.73 161.54Z"/>
<path d="M312.90 156.51L310.48 160.70L315.31 160.70Z"/>
<path d="M316.48 155.74L314.07 159.92L318.90 159.92Z"/>
<path d="M320.07 155.02L317.66 159.20L322.49 159.20Z"/>
<path d="M323.66 154.37L321.24 158.55L326.07 158.55Z"/>
<path d="M327.24 153.76L324.83 157.94L329.66 157.94Z"/>
<path d="M330.83 153.20L328.41 157.39L333.24 157.39Z"/>
<path d="M334.41 152.69L332.00 156.87L336.83 156.87Z"/>
<path d="M338.00 152.21L335.58 156.39L340.42 156.39Z"/>
<path d="M341.59 152.69L339.17 156.87L344.00 156.87Z"/>
<path d="M345.17 153.20L342.76 157.39L347.59 157.39Z"/>
<path d="M348.76 153.76L346.34 157.94L351.17 157.94Z"/>
<path d="M352.34 154.37L349.93 158.55L354.76 158.55Z"/>
<path d="M355.93 155.02L353.51 159.20L358.34 159.20Z"/>
<path d="M359.52 155.74L357.10 159.92L361.93 159.92Z"/>
<path d="M363.10 156.51L360.69 160.70L365.52 160.70Z"/>
<path d="M366.69 157.36L364.27 161.54L369.10 161.54Z"/>
<path d="M370.27 158.28L367.86 162.46L372.69 162.46Z"/>
<path d="M373.86 159.27L371.44 163.45L376.27 163.45Z"/>
<path d="M377.45 160.37L375.03 164.55L379.86 164.55Z"/>
<path d="M381.03 161.78L378.62 165.96L383.45 165.96Z"/>
<path d="M384.62 163.41L382.20 167.60L387.03 167.60Z"/>
<path d="M388.20 165.28L385.79 169.47L390.62 169.47Z"/>
<path d="M391.79 167.22L389.37 171.41L394.20 171.41Z"/>
<path d="M395.38 169.41L392.96 173.59L397.79 173.59Z"/>
<path d="M398.96 172.47L396.55 176.65L401.38 176.65Z"/>
<path d="M402.55 176.45L400.13 180.63L404.96 180.63Z"/>
<path d="M406.13 181.81L403.72 186.00L408.55 186.00Z"/>
<path d="M409.72 190.34L407.30 194.53L412.13 194.53Z"/>
<path d="M413.30 213.25L410.89 217.43L415.72 217.43Z"/>
</g></g>
<g stroke="#9400d3">
<path clip-path="url(#ci)" d="M262.10 224.50L262.70 212.42L263.29 205.96L263.89 201.59L264.49 198.18L265.09 195.39L265.68 193.06L266.28 191.04L266.88 189.27L267.48 187.69L268.07 186.25L268.67 184.92L269.27 183.69L269.87 182.56L270.46 181.53L271.06 180.61L271.66 179.80L272.26 179.08L272.86 178.40L273.45 177.74L274.05 177.09L274.65 176.42L275.25 175.76L275.84 175.12L276.44 174.51L277.04 173.92L277.64 173.36L278.23 172.81L278.83 172.29L279.43 171.80L280.03 171.34L280.62 170.92L281.22 170.53L281.82 170.16L282.42 169.80L283.02 169.44L283.61 169.09L284.21 168.74L284.81 168.40L285.41 168.06L286.00 167.74L286.60 167.42L287.20 167.11L287.80 166.81L288.39 166.51L288.99 166.22L289.59 165.94L290.19 165.66L290.79 165.38L291.38 165.12L291.98 164.85L292.58 164.60L293.18 164.35L293.77 164.10L294.37 163.86L294.97 163.62L295.57 163.39L296.16 163.16L296.76 162.94L297.36 162.72L297.96 162.51L298.55 162.30L299.15 162.10L299.75 161.89L300.35 161.70L300.95 161.50L301.54 161.31L302.14 161.13L302.74 160.94L303.34 160.76L303.93 160.59L304.53 160.41L305.13 160.24L305.73 160.07L306.32 159.91L306.92 159.75L307.52 159.59L308.12 159.44L308.71 159.28L309.31 159.13L309.91 158.99L310.51 158.84L311.11 158.70L311.70 158.56L312.30 158.43L312.90 158.29L313.50 158.16L314.09 158.03L314.69 157.91L315.29 157.78L315.89 157.66L316.48 157.54L317.08 157.42L317.68 157.31L318.28 157.20L318.88 157.09L319.47 156.98L320.07 156.87L320.67 156.77L321.27 156.67L321.86 156.57L322.46 156.47L323.06 156.38L323.66 156.28L324.25 156.19L324.85 156.10L325.45 156.02L326.05 155.93L326.64 155.85L327.24 155.77L327.84 155.69L328.44 155.61L329.04 155.54L329.63 155.46L330.23 155.39L330.83 155.32L331.43 155.25L332.02 155.19L332.62 155.12L333.22 155.06L333.82 155.00L334.41 154.94L335.01 154.88L335.61 154.83L336.21 154.77L336.80 154.72L337.40 154.67L338.00 154.62L338.60 154.67L339.20 154.72L339.79 154.77L340.39 154.83L340.99 154.88L341.59 154.94L342.18 155.00L342.78 155.06L343.38 155.12L343.98 155.19L344.57 155.25L345.17 155.32L345.77 155.39L346.37 155.46L346.96 155.54L347.56 155.61L348.16 155.69L348.76 155.77L349.36 155.85L349.95 155.93L350.55 156.02L351.15 156.10L351.75 156.19L352.34 156.28L352.94 156.38L353.54 156.47L354.14 156.57L354.73 156.67L355.33 156.77L355.93 156.87L356.53 156.98L357.12 157.09L357.72 157.20L358.32 157.31L358.92 157.42L359.52 157.54L360.11 157.66L360.71 157.78L361.31 157.91L361.91 158.03L362.50 158.16L363.10 158.29L363.70 158.43L364.30 158.56L364.89 158.70L365.49 158.84L366.09 158.99L366.69 159.13L367.29 159.28L367.88 159.44L368.48 159.59L369.08 159.75L369.68 159.91L370.27 160.07L370.87 160.24L371.47 160.41L372.07 160.59L372.66 160.76L373.26 160.94L373.86 161.13L374.46 161.31L375.05 161.50L375.65 161.70L376.25 161.89L376.85 162.10L377.45 162.30L378.04 162.51L378.64 162.72L379.24 162.94L379.84 163.16L380.43 163.39L381.03 163.62L381.63 163.86L382.23 164.10L382.82 164.35L383.42 164.60L384.02 164.85L384.62 165.12L385.21 165.38L385.81 165.66L386.41 165.94L387.01 166.22L387.61 166.51L388.20 166.81L388.80 167.11L389.40 167.42L390.00 167.74L390.59 168.06L391.19 168.40L391.79 168.74L392.39 169.09L392.98 169.44L393.58 169.80L394.18 170.16L394.78 170.53L395.38 170.92L395.97 171.34L396.57 171.80L397.17 172.29L397.77 172.81L398.36 173.36L398.96 173.92L399.56 174.51L400.16 175.12L400.75 175.76L401.35 176.42L401.95 177.09L402.55 177.74L403.14 178.40L403.74 179.08L404.34 179.80L404.94 180.61L405.54 181.53L406.13 182.56L406.73 183.69L407.33 184.92L407.93 186.25L408.52 187.69L409.12 189.27L409.72 191.04L410.32 193.06L410.91 195.39L411.51 198.18L412.11 201.59L412.71 205.96L413.30 212.42L413.90 224.50" stroke-width="1.3"/>
<g stroke-width="1.1">
<rect x="260.10" y="222.50" width="4.00" height="4.00"/>
<rect x="261.89" y="199.59" width="4.00" height="4.00"/>
<rect x="263.68" y="191.06" width="4.00" height="4.00"/>
<rect x="265.48" y="185.69" width="4.00" height="4.00"/>
<rect x="267.27" y="181.69" width="4.00" height="4.00"/>
<rect x="269.06" y="178.61" width="4.00" height="4.00"/>
<rect x="270.86" y="176.40" width="4.00" height="4.00"/>
<rect x="272.65" y="174.42" width="4.00" height="4.00"/>
<rect x="274.44" y="172.51" width="4.00" height="4.00"/>
<rect x="276.24" y="170.81" width="4.00" height="4.00"/>
<rect x="278.03" y="169.34" width="4.00" height="4.00"/>
<rect x="279.82" y="168.16" width="4.00" height="4.00"/>
<rect x="281.61" y="167.09" width="4.00" height="4.00"/>
<rect x="283.41" y="166.07" width="4.00" height="4.00"/>
<rect x="285.20" y="165.11" width="4.00" height="4.00"/>
<rect x="286.99" y="164.22" width="4.00" height="4.00"/>
<rect x="288.79" y="163.38" width="4.00" height="4.00"/>
<rect x="290.58" y="162.60" width="4.00" height="4.00"/>
<rect x="292.37" y="161.86" width="4.00" height="4.00"/>
<rect x="294.16" y="161.17" width="4.00" height="4.00"/>
<rect x="295.96" y="160.51" width="4.00" height="4.00"/>
<rect x="297.75" y="159.89" width="4.00" height="4.00"/>
<rect x="299.54" y="159.31" width="4.00" height="4.00"/>
<rect x="301.34" y="158.76" width="4.00" height="4.00"/>
<rect x="303.13" y="158.24" width="4.00" height="4.00"/>
<rect x="304.92" y="157.75" width="4.00" height="4.00"/>
<rect x="306.72" y="157.28" width="4.00" height="4.00"/>
<rect x="308.51" y="156.84" width="4.00" height="4.00"/>
<rect x="310.30" y="156.43" width="4.00" height="4.00"/>
<rect x="312.09" y="156.03" width="4.00" height="4.00"/>
<rect x="313.89" y="155.66" width="4.00" height="4.00"/>
<rect x="315.68" y="155.31" width="4.00" height="4.00"/>
<rect x="317.47" y="154.98" width="4.00" height="4.00"/>
<rect x="319.27" y="154.67" width="4.00" height="4.00"/>
<rect x="321.06" y="154.38" width="4.00" height="4.00"/>
<rect x="322.85" y="154.11" width="4.00" height="4.00"/>
<rect x="324.65" y="153.85" width="4.00" height="4.00"/>
<rect x="326.44" y="153.61" width="4.00" height="4.00"/>
<rect x="328.23" y="153.39" width="4.00" height="4.00"/>
<rect x="330.02" y="153.19" width="4.00" height="4.00"/>
<rect x="331.82" y="153.00" width="4.00" height="4.00"/>
<rect x="333.61" y="152.83" width="4.00" height="4.00"/>
<rect x="335.40" y="152.67" width="4.00" height="4.00"/>
<rect x="337.20" y="152.72" width="4.00" height="4.00"/>
<rect x="338.99" y="152.88" width="4.00" height="4.00"/>
<rect x="340.78" y="153.06" width="4.00" height="4.00"/>
<rect x="342.58" y="153.25" width="4.00" height="4.00"/>
<rect x="344.37" y="153.46" width="4.00" height="4.00"/>
<rect x="346.16" y="153.69" width="4.00" height="4.00"/>
<rect x="347.95" y="153.93" width="4.00" height="4.00"/>
<rect x="349.75" y="154.19" width="4.00" height="4.00"/>
<rect x="351.54" y="154.47" width="4.00" height="4.00"/>
<rect x="353.33" y="154.77" width="4.00" height="4.00"/>
<rect x="355.13" y="155.09" width="4.00" height="4.00"/>
<rect x="356.92" y="155.43" width="4.00" height="4.00"/>
<rect x="358.71" y="155.78" width="4.00" height="4.00"/>
<rect x="360.50" y="156.16" width="4.00" height="4.00"/>
<rect x="362.30" y="156.56" width="4.00" height="4.00"/>
<rect x="364.09" y="156.99" width="4.00" height="4.00"/>
<rect x="365.88" y="157.44" width="4.00" height="4.00"/>
<rect x="367.68" y="157.91" width="4.00" height="4.00"/>
<rect x="369.47" y="158.41" width="4.00" height="4.00"/>
<rect x="371.26" y="158.94" width="4.00" height="4.00"/>
<rect x="373.06" y="159.50" width="4.00" height="4.00"/>
<rect x="374.85" y="160.10" width="4.00" height="4.00"/>
<rect x="376.64" y="160.73" width="4.00" height="4.00"/>
<rect x="378.43" y="161.39" width="4.00" height="4.00"/>
<rect x="380.23" y="162.10" width="4.00" height="4.00"/>
<rect x="382.02" y="162.86" width="4.00" height="4.00"/>
<rect x="383.81" y="163.66" width="4.00" height="4.00"/>
<rect x="385.61" y="164.51" width="4.00" height="4.00"/>
<rect x="387.40" y="165.42" width="4.00" height="4.00"/>
<rect x="389.19" y="166.40" width="4.00" height="4.00"/>
<rect x="390.99" y="167.44" width="4.00" height="4.00"/>
<rect x="392.78" y="168.53" width="4.00" height="4.00"/>
<rect x="394.57" y="169.80" width="4.00" height="4.00"/>
<rect x="396.36" y="171.36" width="4.00" height="4.00"/>
<rect x="398.16" y="173.12" width="4.00" height="4.00"/>
<rect x="399.95" y="175.09" width="4.00" height="4.00"/>
<rect x="401.74" y="177.08" width="4.00" height="4.00"/>
<rect x="403.54" y="179.53" width="4.00" height="4.00"/>
<rect x="405.33" y="182.92" width="4.00" height="4.00"/>
<rect x="407.12" y="187.27" width="4.00" height="4.00"/>
<rect x="408.91" y="193.39" width="4.00" height="4.00"/>
<rect x="410.71" y="203.96" width="4.00" height="4.00"/>
</g></g>
<g stroke="#40e0d0">
<path clip-path="url(#ci)" d="M261.80 233.53L262.10 221.21L262.40 214.75L262.70 210.38L262.99 206.96L263.29 204.18L263.59 201.84L263.89 199.83L264.19 198.06L264.49 196.47L264.79 195.04L265.09 193.71L265.38 192.47L265.68 191.34L265.98 190.31L266.28 189.39L266.58 188.58L266.88 187.85L267.18 187.17L267.48 186.52L267.78 185.86L268.07 185.19L268.37 184.53L268.67 183.89L268.97 183.27L269.27 182.68L269.57 182.12L269.87 181.57L270.17 181.04L270.46 180.54L270.76 180.08L271.06 179.66L271.36 179.26L271.66 178.89L271.96 178.52L272.26 178.16L272.56 177.80L272.86 177.44L273.15 177.10L273.45 176.76L273.75 176.43L274.05 176.10L274.35 175.78L274.65 175.47L274.95 175.16L275.25 174.87L275.54 174.57L275.84 174.28L276.14 174.00L276.44 173.72L276.74 173.45L277.04 173.18L277.34 172.92L277.64 172.66L277.94 172.41L278.23 172.16L278.53 171.92L278.83 171.68L279.13 171.44L279.43 171.21L279.73 170.98L280.03 170.75L280.33 170.53L280.62 170.31L280.92 170.10L281.22 169.89L281.52 169.68L281.82 169.48L282.12 169.28L282.42 169.08L282.72 168.88L283.02 168.69L283.31 168.50L283.61 168.31L283.91 168.12L284.21 167.94L284.51 167.76L284.81 167.58L285.11 167.40L285.41 167.23L285.71 167.06L286.00 166.89L286.30 166.72L286.60 166.56L286.90 166.39L287.20 166.23L287.50 166.07L287.80 165.92L288.10 165.76L288.39 165.61L288.69 165.46L288.99 165.31L289.29 165.16L289.59 165.01L289.89 164.87L290.19 164.72L290.49 164.58L290.79 164.44L291.08 164.30L291.38 164.17L291.68 164.03L291.98 163.90L292.28 163.77L292.58 163.64L292.88 163.51L293.18 163.38L293.47 163.25L293.77 163.13L294.07 163.00L294.37 162.88L294.67 162.76L294.97 162.64L295.27 162.52L295.57 162.40L295.87 162.29L296.16 162.17L296.46 162.06L296.76 161.95L297.06 161.83L297.36 161.72L297.66 161.61L297.96 161.51L298.26 161.40L298.55 161.29L298.85 161.19L299.15 161.09L299.45 160.98L299.75 160.88L300.05 160.78L300.35 160.68L300.65 160.59L300.95 160.49L301.24 160.39L301.54 160.30L301.84 160.21L302.14 160.11L302.44 160.02L302.74 159.93L303.04 159.84L303.34 159.75L303.63 159.67L303.93 159.58L304.23 159.49L304.53 159.41L304.83 159.33L305.13 159.24L305.43 159.16L305.73 159.08L306.03 159.00L306.32 158.92L306.62 158.84L306.92 158.77L307.22 158.69L307.52 158.62L307.82 158.54L308.12 158.47L308.42 158.39L308.71 158.32L309.01 158.25L309.31 158.18L309.61 158.11L309.91 158.04L310.21 157.98L310.51 157.91L310.81 157.84L311.11 157.78L311.40 157.71L311.70 157.65L312.00 157.59L312.30 157.53L312.60 157.46L312.90 157.40L313.20 157.34L313.50 157.29L313.79 157.23L314.09 157.17L314.39 157.11L314.69 157.06L314.99 157.00L315.29 156.95L315.59 156.89L315.89 156.84L316.19 156.79L316.48 156.74L316.78 156.69L317.08 156.64L317.38 156.59L317.68 156.54L317.98 156.49L318.28 156.45L318.58 156.40L318.88 156.35L319.17 156.31L319.47 156.27L319.77 156.22L320.07 156.18L320.37 156.14L320.67 156.10L320.97 156.06L321.27 156.02L321.56 155.98L321.86 155.94L322.16 155.90L322.46 155.86L322.76 155.83L323.06 155.79L323.36 155.76L323.66 155.72L323.96 155.69L324.25 155.66L324.55 155.62L324.85 155.59L325.15 155.56L325.45 155.53L325.75 155.50L326.05 155.47L326.35 155.44L326.64 155.42L326.94 155.39L327.24 155.36L327.54 155.34L327.84 155.31L328.14 155.29L328.44 155.26L328.74 155.24L329.04 155.22L329.33 155.20L329.63 155.18L329.93 155.16L330.23 155.14L330.53 155.12L330.83 155.10L331.13 155.08L331.43 155.06L331.72 155.05L332.02 155.03L332.32 155.01L332.62 155.00L332.92 154.99L333.22 154.97L333.52 154.96L333.82 154.95L334.12 154.94L334.41 154.92L334.71 154.91L335.01 154.90L335.31 154.90L335.61 154.89L335.91 154.88L336.21 154.87L336.51 154.87L336.80 154.86L337.10 154.86L337.40 154.85L337.70 154.85L338.00 154.84L338.30 154.85L338.60 154.85L338.90 154.86L339.20 154.86L339.49 154.87L339.79 154.87L340.09 154.88L340.39 154.89L340.69 154.90L340.99 154.90L341.29 154.91L341.59 154.92L341.88 154.94L342.18 154.95L342.48 154.96L342.78 154.97L343.08 154.99L343.38 155.00L343.68 155.01L343.98 155.03L344.28 155.05L344.57 155.06L344.87 155.08L345.17 155.10L345.47 155.12L345.77 155.14L346.07 155.16L346.37 155.18L346.67 155.20L346.96 155.22L347.26 155.24L347.56 155.26L347.86 155.29L348.16 155.31L348.46 155.34L348.76 155.36L349.06 155.39L349.36 155.42L349.65 155.44L349.95 155.47L350.25 155.50L350.55 155.53L350.85 155.56L351.15 155.59L351.45 155.62L351.75 155.66L352.04 155.69L352.34 155.72L352.64 155.76L352.94 155.79L353.24 155.83L353.54 155.86L353.84 155.90L354.14 155.94L354.44 155.98L354.73 156.02L355.03 156.06L355.33 156.10L355.63 156.14L355.93 156.18L356.23 156.22L356.53 156.27L356.83 156.31L357.12 156.35L357.42 156.40L357.72 156.45L358.02 156.49L358.32 156.54L358.62 156.59L358.92 156.64L359.22 156.69L359.52 156.74L359.81 156.79L360.11 156.84L360.41 156.89L360.71 156.95L361.01 157.00L361.31 157.06L361.61 157.11L361.91 157.17L362.21 157.23L362.50 157.29L362.80 157.34L363.10 157.40L363.40 157.46L363.70 157.53L364.00 157.59L364.30 157.65L364.60 157.71L364.89 157.78L365.19 157.84L365.49 157.91L365.79 157.98L366.09 158.04L366.39 158.11L366.69 158.18L366.99 158.25L367.29 158.32L367.58 158.39L367.88 158.47L368.18 158.54L368.48 158.62L368.78 158.69L369.08 158.77L369.38 158.84L369.68 158.92L369.97 159.00L370.27 159.08L370.57 159.16L370.87 159.24L371.17 159.33L371.47 159.41L371.77 159.49L372.07 159.58L372.37 159.67L372.66 159.75L372.96 159.84L373.26 159.93L373.56 160.02L373.86 160.11L374.16 160.21L374.46 160.30L374.76 160.39L375.05 160.49L375.35 160.59L375.65 160.68L375.95 160.78L376.25 160.88L376.55 160.98L376.85 161.09L377.15 161.19L377.45 161.29L377.74 161.40L378.04 161.51L378.34 161.61L378.64 161.72L378.94 161.83L379.24 161.95L379.54 162.06L379.84 162.17L380.13 162.29L380.43 162.40L380.73 162.52L381.03 162.64L381.33 162.76L381.63 162.88L381.93 163.00L382.23 163.13L382.53 163.25L382.82 163.38L383.12 163.51L383.42 163.64L383.72 163.77L384.02 163.90L384.32 164.03L384.62 164.17L384.92 164.30L385.21 164.44L385.51 164.58L385.81 164.72L386.11 164.87L386.41 165.01L386.71 165.16L387.01 165.31L387.31 165.46L387.61 165.61L387.90 165.76L388.20 165.92L388.50 166.07L388.80 166.23L389.10 166.39L389.40 166.56L389.70 166.72L390.00 166.89L390.29 167.06L390.59 167.23L390.89 167.40L391.19 167.58L391.49 167.76L391.79 167.94L392.09 168.12L392.39 168.31L392.69 168.50L392.98 168.69L393.28 168.88L393.58 169.08L393.88 169.28L394.18 169.48L394.48 169.68L394.78 169.89L395.08 170.10L395.38 170.31L395.67 170.53L395.97 170.75L396.27 170.98L396.57 171.21L396.87 171.44L397.17 171.68L397.47 171.92L397.77 172.16L398.06 172.41L398.36 172.66L398.66 172.92L398.96 173.18L399.26 173.45L399.56 173.72L399.86 174.00L400.16 174.28L400.46 174.57L400.75 174.87L401.05 175.16L401.35 175.47L401.65 175.78L401.95 176.10L402.25 176.43L402.55 176.76L402.85 177.10L403.14 177.44L403.44 177.80L403.74 178.16L404.04 178.52L404.34 178.89L404.64 179.26L404.94 179.66L405.24 180.08L405.54 180.54L405.83 181.04L406.13 181.57L406.43 182.12L406.73 182.68L407.03 183.27L407.33 183.89L407.63 184.53L407.93 185.19L408.22 185.86L408.52 186.52L408.82 187.17L409.12 187.85L409.42 188.58L409.72 189.39L410.02 190.31L410.32 191.34L410.62 192.47L410.91 193.71L411.21 195.04L411.51 196.47L411.81 198.06L412.11 199.83L412.41 201.84L412.71 204.18L413.01 206.96L413.30 210.38L413.60 214.75L413.90 221.21L414.20 233.53" stroke-width="1.3"/>
<g stroke-width="1.1">
<path d="M258.98 233.53L261.80 230.71L264.62 233.53L261.80 236.35Z"/>
<path d="M260.77 201.84L263.59 199.02L266.41 201.84L263.59 204.66Z"/>
<path d="M262.57 192.47L265.38 189.65L268.20 192.47L265.38 195.29Z"/>
<path d="M264.36 187.17L267.18 184.36L270.00 187.17L267.18 189.99Z"/>
<path d="M266.15 183.27L268.97 180.45L271.79 183.27L268.97 186.09Z"/>
<path d="M267.95 180.08L270.76 177.26L273.58 180.08L270.76 182.90Z"/>
<path d="M269.74 177.80L272.56 174.98L275.37 177.80L272.56 180.61Z"/>
<path d="M271.53 175.78L274.35 172.96L277.17 175.78L274.35 178.60Z"/>
<path d="M273.32 174.00L276.14 171.18L278.96 174.00L276.14 176.82Z"/>
<path d="M275.12 172.41L277.94 169.59L280.75 172.41L277.94 175.23Z"/>
<path d="M276.91 170.98L279.73 168.16L282.55 170.98L279.73 173.80Z"/>
<path d="M278.70 169.68L281.52 166.86L284.34 169.68L281.52 172.50Z"/>
<path d="M280.50 168.50L283.31 165.68L286.13 168.50L283.31 171.31Z"/>
<path d="M282.29 167.40L285.11 164.59L287.93 167.40L285.11 170.22Z"/>
<path d="M284.08 166.39L286.90 163.58L289.72 166.39L286.90 169.21Z"/>
<path d="M285.88 165.46L288.69 162.64L291.51 165.46L288.69 168.27Z"/>
<path d="M287.67 164.58L290.49 161.76L293.30 164.58L290.49 167.40Z"/>
<path d="M289.46 163.77L292.28 160.95L295.10 163.77L292.28 166.58Z"/>
<path d="M291.25 163.00L294.07 160.18L296.89 163.00L294.07 165.82Z"/>
<path d="M293.05 162.29L295.87 159.47L298.68 162.29L295.87 165.10Z"/>
<path d="M294.84 161.61L297.66 158.80L300.48 161.61L297.66 164.43Z"/>
<path d="M296.63 160.98L299.45 158.17L302.27 160.98L299.45 163.80Z"/>
<path d="M298.43 160.39L301.24 157.58L304.06 160.39L301.24 163.21Z"/>
<path d="M300.22 159.84L303.04 157.02L305.86 159.84L303.04 162.66Z"/>
<path d="M302.01 159.33L304.83 156.51L307.65 159.33L304.83 162.14Z"/>
<path d="M303.80 158.84L306.62 156.03L309.44 158.84L306.62 161.66Z"/>
<path d="M305.60 158.39L308.42 155.58L311.23 158.39L308.42 161.21Z"/>
<path d="M307.39 157.98L310.21 155.16L313.03 157.98L310.21 160.79Z"/>
<path d="M309.18 157.59L312.00 154.77L314.82 157.59L312.00 160.41Z"/>
<path d="M310.98 157.23L313.79 154.41L316.61 157.23L313.79 160.05Z"/>
<path d="M312.77 156.89L315.59 154.08L318.41 156.89L315.59 159.71Z"/>
<path d="M314.56 156.59L317.38 153.77L320.20 156.59L317.38 159.41Z"/>
<path d="M316.36 156.31L319.17 153.49L321.99 156.31L319.17 159.13Z"/>
<path d="M318.15 156.06L320.97 153.24L323.78 156.06L320.97 158.87Z"/>
<path d="M319.94 155.83L322.76 153.01L325.58 155.83L322.76 158.65Z"/>
<path d="M321.73 155.62L324.55 152.81L327.37 155.62L324.55 158.44Z"/>
<path d="M323.53 155.44L326.35 152.63L329.16 155.44L326.35 158.26Z"/>
<path d="M325.32 155.29L328.14 152.47L330.96 155.29L328.14 158.11Z"/>
<path d="M327.11 155.16L329.93 152.34L332.75 155.16L329.93 157.97Z"/>
<path d="M328.91 155.05L331.72 152.23L334.54 155.05L331.72 157.86Z"/>
<path d="M330.70 154.96L333.52 152.14L336.34 154.96L333.52 157.78Z"/>
<path d="M332.49 154.90L335.31 152.08L338.13 154.90L335.31 157.71Z"/>
<path d="M334.29 154.86L337.10 152.04L339.92 154.86L337.10 157.67Z"/>
<path d="M336.08 154.86L338.90 152.04L341.71 154.86L338.90 157.67Z"/>
<path d="M337.87 154.90L340.69 152.08L343.51 154.90L340.69 157.71Z"/>
<path d="M339.66 154.96L342.48 152.14L345.30 154.96L342.48 157.78Z"/>
<path d="M341.46 155.05L344.28 152.23L347.09 155.05L344.28 157.86Z"/>
<path d="M343.25 155.16L346.07 152.34L348.89 155.16L346.07 157.97Z"/>
<path d="M345.04 155.29L347.86 152.47L350.68 155.29L347.86 158.11Z"/>
<path d="M346.84 155.44L349.65 152.63L352.47 155.44L349.65 158.26Z"/>
<path d="M348.63 155.62L351.45 152.81L354.27 155.62L351.45 158.44Z"/>
<path d="M350.42 155.83L353.24 153.01L356.06 155.83L353.24 158.65Z"/>
<path d="M352.22 156.06L355.03 153.24L357.85 156.06L355.03 158.87Z"/>
<path d="M354.01 156.31L356.83 153.49L359.64 156.31L356.83 159.13Z"/>
<path d="M355.80 156.59L358.62 153.77L361.44 156.59L358.62 159.41Z"/>
<path d="M357.59 156.89L360.41 154.08L363.23 156.89L360.41 159.71Z"/>
<path d="M359.39 157.23L362.21 154.41L365.02 157.23L362.21 160.05Z"/>
<path d="M361.18 157.59L364.00 154.77L366.82 157.59L364.00 160.41Z"/>
<path d="M362.97 157.98L365.79 155.16L368.61 157.98L365.79 160.79Z"/>
<path d="M364.77 158.39L367.58 155.58L370.40 158.39L367.58 161.21Z"/>
<path d="M366.56 158.84L369.38 156.03L372.20 158.84L369.38 161.66Z"/>
<path d="M368.35 159.33L371.17 156.51L373.99 159.33L371.17 162.14Z"/>
<path d="M370.14 159.84L372.96 157.02L375.78 159.84L372.96 162.66Z"/>
<path d="M371.94 160.39L374.76 157.58L377.57 160.39L374.76 163.21Z"/>
<path d="M373.73 160.98L376.55 158.17L379.37 160.98L376.55 163.80Z"/>
<path d="M375.52 161.61L378.34 158.80L381.16 161.61L378.34 164.43Z"/>
<path d="M377.32 162.29L380.13 159.47L382.95 162.29L380.13 165.10Z"/>
<path d="M379.11 163.00L381.93 160.18L384.75 163.00L381.93 165.82Z"/>
<path d="M380.90 163.77L383.72 160.95L386.54 163.77L383.72 166.58Z"/>
<path d="M382.70 164.58L385.51 161.76L388.33 164.58L385.51 167.40Z"/>
<path d="M384.49 165.46L387.31 162.64L390.12 165.46L387.31 168.27Z"/>
<path d="M386.28 166.39L389.10 163.58L391.92 166.39L389.10 169.21Z"/>
<path d="M388.07 167.40L390.89 164.59L393.71 167.40L390.89 170.22Z"/>
<path d="M389.87 168.50L392.69 165.68L395.50 168.50L392.69 171.31Z"/>
<path d="M391.66 169.68L394.48 166.86L397.30 169.68L394.48 172.50Z"/>
<path d="M393.45 170.98L396.27 168.16L399.09 170.98L396.27 173.80Z"/>
<path d="M395.25 172.41L398.06 169.59L400.88 172.41L398.06 175.23Z"/>
<path d="M397.04 174.00L399.86 171.18L402.68 174.00L399.86 176.82Z"/>
<path d="M398.83 175.78L401.65 172.96L404.47 175.78L401.65 178.60Z"/>
<path d="M400.63 177.80L403.44 174.98L406.26 177.80L403.44 180.61Z"/>
<path d="M402.42 180.08L405.24 177.26L408.05 180.08L405.24 182.90Z"/>
<path d="M404.21 183.27L407.03 180.45L409.85 183.27L407.03 186.09Z"/>
<path d="M406.00 187.17L408.82 184.36L411.64 187.17L408.82 189.99Z"/>
<path d="M407.80 192.47L410.62 189.65L413.43 192.47L410.62 195.29Z"/>
<path d="M409.59 201.84L412.41 199.02L415.23 201.84L412.41 204.66Z"/>
<path d="M411.38 233.53L414.20 230.71L417.02 233.53L414.20 236.35Z"/>
</g></g>
<g stroke="#ff0000">
<path clip-path="url(#ci)" d="M261.65 242.56L261.80 230.24L261.95 223.78L262.10 219.41L262.25 215.99L262.40 213.21L262.55 210.87L262.70 208.86L262.84 207.09L262.99 205.50L263.14 204.07L263.29 202.74L263.44 201.51L263.59 200.37L263.74 199.35L263.89 198.43L264.04 197.62L264.19 196.89L264.34 196.21L264.49 195.55L264.64 194.90L264.79 194.23L264.94 193.57L265.09 192.93L265.24 192.31L265.38 191.72L265.53 191.16L265.68 190.61L265.83 190.08L265.98 189.58L266.13 189.12L266.28 188.70L266.43 188.31L266.58 187.93L266.73 187.57L266.88 187.20L267.03 186.84L267.18 186.49L267.33 186.14L267.48 185.80L267.63 185.47L267.78 185.15L267.92 184.83L268.07 184.52L268.22 184.21L268.37 183.91L268.52 183.62L268.67 183.33L268.82 183.05L268.97 182.77L269.12 182.50L269.27 182.23L269.42 181.97L269.57 181.71L269.72 181.45L269.87 181.20L270.02 180.96L270.17 180.72L270.32 180.48L270.46 180.25L270.61 180.02L270.76 179.79L270.91 179.57L271.06 179.35L271.21 179.14L271.36 178.92L271.51 178.72L271.66 178.51L271.81 178.31L271.96 178.11L272.11 177.91L272.26 177.71L272.41 177.52L272.56 177.33L272.71 177.14L272.86 176.96L273.00 176.78L273.15 176.59L273.30 176.42L273.45 176.24L273.60 176.07L273.75 175.89L273.90 175.72L274.05 175.56L274.20 175.39L274.35 175.23L274.50 175.06L274.65 174.90L274.80 174.75L274.95 174.59L275.10 174.43L275.25 174.28L275.40 174.13L275.54 173.98L275.69 173.83L275.84 173.68L275.99 173.54L276.14 173.39L276.29 173.25L276.44 173.11L276.59 172.97L276.74 172.83L276.89 172.69L277.04 172.55L277.19 172.42L277.34 172.29L277.49 172.15L277.64 172.02L277.79 171.89L277.94 171.76L278.08 171.64L278.23 171.51L278.38 171.39L278.53 171.26L278.68 171.14L278.83 171.02L278.98 170.90L279.13 170.78L279.28 170.66L279.43 170.54L279.58 170.42L279.73 170.31L279.88 170.19L280.03 170.08L280.18 169.96L280.33 169.85L280.48 169.74L280.62 169.63L280.77 169.52L280.92 169.41L281.07 169.31L281.22 169.20L281.37 169.09L281.52 168.99L281.67 168.89L281.82 168.78L281.97 168.68L282.12 168.58L282.27 168.48L282.42 168.38L282.57 168.28L282.72 168.18L282.87 168.09L283.02 167.99L283.17 167.89L283.31 167.80L283.46 167.70L283.61 167.61L283.76 167.52L283.91 167.43L284.06 167.33L284.21 167.24L284.36 167.15L284.51 167.06L284.66 166.97L284.81 166.89L284.96 166.80L285.11 166.71L285.26 166.63L285.41 166.54L285.56 166.46L285.71 166.37L285.85 166.29L286.00 166.20L286.15 166.12L286.30 166.04L286.45 165.96L286.60 165.88L286.75 165.80L286.90 165.72L287.05 165.64L287.20 165.56L287.35 165.48L287.50 165.40L287.65 165.33L287.80 165.25L287.95 165.17L288.10 165.10L288.25 165.02L288.39 164.95L288.54 164.88L288.69 164.80L288.84 164.73L288.99 164.66L289.14 164.58L289.29 164.51L289.44 164.44L289.59 164.37L289.74 164.30L289.89 164.23L290.04 164.16L290.19 164.09L290.34 164.02L290.49 163.96L290.64 163.89L290.79 163.82L290.93 163.76L291.08 163.69L291.23 163.62L291.38 163.56L291.53 163.49L291.68 163.43L291.83 163.36L291.98 163.30L292.13 163.24L292.28 163.17L292.43 163.11L292.58 163.05L292.73 162.99L292.88 162.93L293.03 162.86L293.18 162.80L293.33 162.74L293.47 162.68L293.62 162.62L293.77 162.56L293.92 162.51L294.07 162.45L294.22 162.39L294.37 162.33L294.52 162.27L294.67 162.22L294.82 162.16L294.97 162.10L295.12 162.05L295.27 161.99L295.42 161.93L295.57 161.88L295.72 161.82L295.87 161.77L296.01 161.72L296.16 161.66L296.31 161.61L296.46 161.56L296.61 161.50L296.76 161.45L296.91 161.40L297.06 161.34L297.21 161.29L297.36 161.24L297.51 161.19L297.66 161.14L297.81 161.09L297.96 161.04L298.11 160.99L298.26 160.94L298.41 160.89L298.55 160.84L298.70 160.79L298.85 160.74L299.00 160.69L299.15 160.65L299.30 160.60L299.45 160.55L299.60 160.50L299.75 160.46L299.90 160.41L300.05 160.36L300.20 160.32L300.35 160.27L300.50 160.23L300.65 160.18L300.80 160.14L300.95 160.09L301.09 160.05L301.24 160.00L301.39 159.96L301.54 159.91L301.69 159.87L301.84 159.83L301.99 159.78L302.14 159.74L302.29 159.70L302.44 159.66L302.59 159.61L302.74 159.57L302.89 159.53L303.04 159.49L303.19 159.45L303.34 159.41L303.49 159.37L303.63 159.33L303.78 159.28L303.93 159.24L304.08 159.20L304.23 159.17L304.38 159.13L304.53 159.09L304.68 159.05L304.83 159.01L304.98 158.97L305.13 158.93L305.28 158.89L305.43 158.86L305.58 158.82L305.73 158.78L305.88 158.74L306.03 158.71L306.17 158.67L306.32 158.63L306.47 158.60L306.62 158.56L306.77 158.52L306.92 158.49L307.07 158.45L307.22 158.42L307.37 158.38L307.52 158.35L307.67 158.31L307.82 158.28L307.97 158.24L308.12 158.21L308.27 158.17L308.42 158.14L308.57 158.11L308.71 158.07L308.86 158.04L309.01 158.01L309.16 157.97L309.31 157.94L309.46 157.91L309.61 157.88L309.76 157.84L309.91 157.81L310.06 157.78L310.21 157.75L310.36 157.72L310.51 157.69L310.66 157.65L310.81 157.62L310.96 157.59L311.11 157.56L311.25 157.53L311.40 157.50L311.55 157.47L311.70 157.44L311.85 157.41L312.00 157.38L312.15 157.35L312.30 157.32L312.45 157.29L312.60 157.27L312.75 157.24L312.90 157.21L313.05 157.18L313.20 157.15L313.35 157.12L313.50 157.10L313.65 157.07L313.79 157.04L313.94 157.01L314.09 156.99L314.24 156.96L314.39 156.93L314.54 156.91L314.69 156.88L314.84 156.85L314.99 156.83L315.14 156.80L315.29 156.77L315.44 156.75L315.59 156.72L315.74 156.70L315.89 156.67L316.04 156.65L316.19 156.62L316.33 156.60L316.48 156.57L316.63 156.55L316.78 156.52L316.93 156.50L317.08 156.47L317.23 156.45L317.38 156.43L317.53 156.40L317.68 156.38L317.83 156.36L317.98 156.33L318.13 156.31L318.28 156.29L318.43 156.26L318.58 156.24L318.73 156.22L318.88 156.20L319.02 156.17L319.17 156.15L319.32 156.13L319.47 156.11L319.62 156.09L319.77 156.06L319.92 156.04L320.07 156.02L320.22 156.00L320.37 155.98L320.52 155.96L320.67 155.94L320.82 155.92L320.97 155.90L321.12 155.88L321.27 155.86L321.42 155.84L321.56 155.82L321.71 155.80L321.86 155.78L322.01 155.76L322.16 155.74L322.31 155.72L322.46 155.70L322.61 155.68L322.76 155.66L322.91 155.64L323.06 155.62L323.21 155.60L323.36 155.59L323.51 155.57L323.66 155.55L323.81 155.53L323.96 155.51L324.10 155.50L324.25 155.48L324.40 155.46L324.55 155.44L324.70 155.43L324.85 155.41L325.00 155.39L325.15 155.38L325.30 155.36L325.45 155.34L325.60 155.33L325.75 155.31L325.90 155.29L326.05 155.28L326.20 155.26L326.35 155.25L326.50 155.23L326.64 155.21L326.79 155.20L326.94 155.18L327.09 155.17L327.24 155.15L327.39 155.14L327.54 155.12L327.69 155.11L327.84 155.09L327.99 155.08L328.14 155.06L328.29 155.05L328.44 155.03L328.59 155.02L328.74 155.01L328.89 154.99L329.04 154.98L329.18 154.96L329.33 154.95L329.48 154.94L329.63 154.92L329.78 154.91L329.93 154.90L330.08 154.89L330.23 154.87L330.38 154.86L330.53 154.85L330.68 154.83L330.83 154.82L330.98 154.81L331.13 154.80L331.28 154.78L331.43 154.77L331.58 154.76L331.72 154.75L331.87 154.74L332.02 154.73L332.17 154.71L332.32 154.70L332.47 154.69L332.62 154.68L332.77 154.67L332.92 154.66L333.07 154.65L333.22 154.64L333.37 154.63L333.52 154.62L333.67 154.61L333.82 154.59L333.97 154.58L334.12 154.57L334.26 154.56L334.41 154.55L334.56 154.54L334.71 154.54L334.86 154.53L335.01 154.52L335.16 154.51L335.31 154.50L335.46 154.49L335.61 154.48L335.76 154.47L335.91 154.46L336.06 154.45L336.21 154.44L336.36 154.43L336.51 154.43L336.66 154.42L336.80 154.41L336.95 154.40L337.10 154.39L337.25 154.39L337.40 154.38L337.55 154.37L337.70 154.36L337.85 154.35L338.00 154.35L338.15 154.35L338.30 154.36L338.45 154.37L338.60 154.38L338.75 154.39L338.90 154.39L339.05 154.40L339.20 154.41L339.34 154.42L339.49 154.43L339.64 154.43L339.79 154.44L339.94 154.45L340.09 154.46L340.24 154.47L340.39 154.48L340.54 154.49L340.69 154.50L340.84 154.51L340.99 154.52L341.14 154.53L341.29 154.54L341.44 154.54L341.59 154.55L341.74 154.56L341.88 154.57L342.03 154.58L342.18 154.59L342.33 154.61L342.48 154.62L342.63 154.63L342.78 154.64L342.93 154.65L343.08 154.66L343.23 154.67L343.38 154.68L343.53 154.69L343.68 154.70L343.83 154.71L343.98 154.73L344.13 154.74L344.28 154.75L344.42 154.76L344.57 154.77L344.72 154.78L344.87 154.80L345.02 154.81L345.17 154.82L345.32 154.83L345.47 154.85L345.62 154.86L345.77 154.87L345.92 154.89L346.07 154.90L346.22 154.91L346.37 154.92L346.52 154.94L346.67 154.95L346.82 154.96L346.96 154.98L347.11 154.99L347.26 155.01L347.41 155.02L347.56 155.03L347.71 155.05L347.86 155.06L348.01 155.08L348.16 155.09L348.31 155.11L348.46 155.12L348.61 155.14L348.76 155.15L348.91 155.17L349.06 155.18L349.21 155.20L349.36 155.21L349.50 155.23L349.65 155.25L349.80 155.26L349.95 155.28L350.10 155.29L350.25 155.31L350.40 155.33L350.55 155.34L350.70 155.36L350.85 155.38L351.00 155.39L351.15 155.41L351.30 155.43L351.45 155.44L351.60 155.46L351.75 155.48L351.90 155.50L352.04 155.51L352.19 155.53L352.34 155.55L352.49 155.57L352.64 155.59L352.79 155.60L352.94 155.62L353.09 155.64L353.24 155.66L353.39 155.68L353.54 155.70L353.69 155.72L353.84 155.74L353.99 155.76L354.14 155.78L354.29 155.80L354.44 155.82L354.58 155.84L354.73 155.86L354.88 155.88L355.03 155.90L355.18 155.92L355.33 155.94L355.48 155.96L355.63 155.98L355.78 156.00L355.93 156.02L356.08 156.04L356.23 156.06L356.38 156.09L356.53 156.11L356.68 156.13L356.83 156.15L356.98 156.17L357.12 156.20L357.27 156.22L357.42 156.24L357.57 156.26L357.72 156.29L357.87 156.31L358.02 156.33L358.17 156.36L358.32 156.38L358.47 156.40L358.62 156.43L358.77 156.45L358.92 156.47L359.07 156.50L359.22 156.52L359.37 156.55L359.52 156.57L359.67 156.60L359.81 156.62L359.96 156.65L360.11 156.67L360.26 156.70L360.41 156.72L360.56 156.75L360.71 156.77L360.86 156.80L361.01 156.83L361.16 156.85L361.31 156.88L361.46 156.91L361.61 156.93L361.76 156.96L361.91 156.99L362.06 157.01L362.21 157.04L362.35 157.07L362.50 157.10L362.65 157.12L362.80 157.15L362.95 157.18L363.10 157.21L363.25 157.24L363.40 157.27L363.55 157.29L363.70 157.32L363.85 157.35L364.00 157.38L364.15 157.41L364.30 157.44L364.45 157.47L364.60 157.50L364.75 157.53L364.89 157.56L365.04 157.59L365.19 157.62L365.34 157.65L365.49 157.69L365.64 157.72L365.79 157.75L365.94 157.78L366.09 157.81L366.24 157.84L366.39 157.88L366.54 157.91L366.69 157.94L366.84 157.97L366.99 158.01L367.14 158.04L367.29 158.07L367.43 158.11L367.58 158.14L367.73 158.17L367.88 158.21L368.03 158.24L368.18 158.28L368.33 158.31L368.48 158.35L368.63 158.38L368.78 158.42L368.93 158.45L369.08 158.49L369.23 158.52L369.38 158.56L369.53 158.60L369.68 158.63L369.83 158.67L369.97 158.71L370.12 158.74L370.27 158.78L370.42 158.82L370.57 158.86L370.72 158.89L370.87 158.93L371.02 158.97L371.17 159.01L371.32 159.05L371.47 159.09L371.62 159.13L371.77 159.17L371.92 159.20L372.07 159.24L372.22 159.28L372.37 159.33L372.51 159.37L372.66 159.41L372.81 159.45L372.96 159.49L373.11 159.53L373.26 159.57L373.41 159.61L373.56 159.66L373.71 159.70L373.86 159.74L374.01 159.78L374.16 159.83L374.31 159.87L374.46 159.91L374.61 159.96L374.76 160.00L374.91 160.05L375.05 160.09L375.20 160.14L375.35 160.18L375.50 160.23L375.65 160.27L375.80 160.32L375.95 160.36L376.10 160.41L376.25 160.46L376.40 160.50L376.55 160.55L376.70 160.60L376.85 160.65L377.00 160.69L377.15 160.74L377.30 160.79L377.45 160.84L377.59 160.89L377.74 160.94L377.89 160.99L378.04 161.04L378.19 161.09L378.34 161.14L378.49 161.19L378.64 161.24L378.79 161.29L378.94 161.34L379.09 161.40L379.24 161.45L379.39 161.50L379.54 161.56L379.69 161.61L379.84 161.66L379.99 161.72L380.13 161.77L380.28 161.82L380.43 161.88L380.58 161.93L380.73 161.99L380.88 162.05L381.03 162.10L381.18 162.16L381.33 162.22L381.48 162.27L381.63 162.33L381.78 162.39L381.93 162.45L382.08 162.51L382.23 162.56L382.38 162.62L382.53 162.68L382.67 162.74L382.82 162.80L382.97 162.86L383.12 162.93L383.27 162.99L383.42 163.05L383.57 163.11L383.72 163.17L383.87 163.24L384.02 163.30L384.17 163.36L384.32 163.43L384.47 163.49L384.62 163.56L384.77 163.62L384.92 163.69L385.07 163.76L385.21 163.82L385.36 163.89L385.51 163.96L385.66 164.02L385.81 164.09L385.96 164.16L386.11 164.23L386.26 164.30L386.41 164.37L386.56 164.44L386.71 164.51L386.86 164.58L387.01 164.66L387.16 164.73L387.31 164.80L387.46 164.88L387.61 164.95L387.75 165.02L387.90 165.10L388.05 165.17L388.20 165.25L388.35 165.33L388.50 165.40L388.65 165.48L388.80 165.56L388.95 165.64L389.10 165.72L389.25 165.80L389.40 165.88L389.55 165.96L389.70 166.04L389.85 166.12L390.00 166.20L390.15 166.29L390.29 166.37L390.44 166.46L390.59 166.54L390.74 166.63L390.89 166.71L391.04 166.80L391.19 166.89L391.34 166.97L391.49 167.06L391.64 167.15L391.79 167.24L391.94 167.33L392.09 167.43L392.24 167.52L392.39 167.61L392.54 167.70L392.69 167.80L392.83 167.89L392.98 167.99L393.13 168.09L393.28 168.18L393.43 168.28L393.58 168.38L393.73 168.48L393.88 168.58L394.03 168.68L394.18 168.78L394.33 168.89L394.48 168.99L394.63 169.09L394.78 169.20L394.93 169.31L395.08 169.41L395.23 169.52L395.38 169.63L395.52 169.74L395.67 169.85L395.82 169.96L395.97 170.08L396.12 170.19L396.27 170.31L396.42 170.42L396.57 170.54L396.72 170.66L396.87 170.78L397.02 170.90L397.17 171.02L397.32 171.14L397.47 171.26L397.62 171.39L397.77 171.51L397.92 171.64L398.06 171.76L398.21 171.89L398.36 172.02L398.51 172.15L398.66 172.29L398.81 172.42L398.96 172.55L399.11 172.69L399.26 172.83L399.41 172.97L399.56 173.11L399.71 173.25L399.86 173.39L400.01 173.54L400.16 173.68L400.31 173.83L400.46 173.98L400.60 174.13L400.75 174.28L400.90 174.43L401.05 174.59L401.20 174.75L401.35 174.90L401.50 175.06L401.65 175.23L401.80 175.39L401.95 175.56L402.10 175.72L402.25 175.89L402.40 176.07L402.55 176.24L402.70 176.42L402.85 176.59L403.00 176.78L403.14 176.96L403.29 177.14L403.44 177.33L403.59 177.52L403.74 177.71L403.89 177.91L404.04 178.11L404.19 178.31L404.34 178.51L404.49 178.72L404.64 178.92L404.79 179.14L404.94 179.35L405.09 179.57L405.24 179.79L405.39 180.02L405.54 180.25L405.68 180.48L405.83 180.72L405.98 180.96L406.13 181.20L406.28 181.45L406.43 181.71L406.58 181.97L406.73 182.23L406.88 182.50L407.03 182.77L407.18 183.05L407.33 183.33L407.48 183.62L407.63 183.91L407.78 184.21L407.93 184.52L408.08 184.83L408.22 185.15L408.37 185.47L408.52 185.80L408.67 186.14L408.82 186.49L408.97 186.84L409.12 187.20L409.27 187.57L409.42 187.93L409.57 188.31L409.72 188.70L409.87 189.12L410.02 189.58L410.17 190.08L410.32 190.61L410.47 191.16L410.62 191.72L410.76 192.31L410.91 192.93L411.06 193.57L411.21 194.23L411.36 194.90L411.51 195.55L411.66 196.21L411.81 196.89L411.96 197.62L412.11 198.43L412.26 199.35L412.41 200.37L412.56 201.51L412.71 202.74L412.86 204.07L413.01 205.50L413.16 207.09L413.30 208.86L413.45 210.87L413.60 213.21L413.75 215.99L413.90 219.41L414.05 223.78L414.20 230.24L414.35 242.56" stroke-width="1.3"/>
<g stroke-width="1.1">
<circle cx="263.44" cy="201.51" r="2.04"/>
<circle cx="265.24" cy="192.31" r="2.04"/>
<circle cx="267.03" cy="186.84" r="2.04"/>
<circle cx="268.82" cy="183.05" r="2.04"/>
<circle cx="270.61" cy="180.02" r="2.04"/>
<circle cx="272.41" cy="177.52" r="2.04"/>
<circle cx="274.20" cy="175.39" r="2.04"/>
<circle cx="275.99" cy="173.54" r="2.04"/>
<circle cx="277.79" cy="171.89" r="2.04"/>
<circle cx="279.58" cy="170.42" r="2.04"/>
<circle cx="281.37" cy="169.09" r="2.04"/>
<circle cx="283.17" cy="167.89" r="2.04"/>
<circle cx="284.96" cy="166.80" r="2.04"/>
<circle cx="286.75" cy="165.80" r="2.04"/>
<circle cx="288.54" cy="164.88" r="2.04"/>
<circle cx="290.34" cy="164.02" r="2.04"/>
<circle cx="292.13" cy="163.24" r="2.04"/>
<circle cx="293.92" cy="162.51" r="2.04"/>
<circle cx="295.72" cy="161.82" r="2.04"/>
<circle cx="297.51" cy="161.19" r="2.04"/>
<circle cx="299.30" cy="160.60" r="2.04"/>
<circle cx="301.09" cy="160.05" r="2.04"/>
<circle cx="302.89" cy="159.53" r="2.04"/>
<circle cx="304.68" cy="159.05" r="2.04"/>
<circle cx="306.47" cy="158.60" r="2.04"/>
<circle cx="308.27" cy="158.17" r="2.04"/>
<circle cx="310.06" cy="157.78" r="2.04"/>
<circle cx="311.85" cy="157.41" r="2.04"/>
<circle cx="313.65" cy="157.07" r="2.04"/>
<circle cx="315.44" cy="156.75" r="2.04"/>
<circle cx="317.23" cy="156.45" r="2.04"/>
<circle cx="319.02" cy="156.17" r="2.04"/>
<circle cx="320.82" cy="155.92" r="2.04"/>
<circle cx="322.61" cy="155.68" r="2.04"/>
<circle cx="324.40" cy="155.46" r="2.04"/>
<circle cx="326.20" cy="155.26" r="2.04"/>
<circle cx="327.99" cy="155.08" r="2.04"/>
<circle cx="329.78" cy="154.91" r="2.04"/>
<circle cx="331.58" cy="154.76" r="2.04"/>
<circle cx="333.37" cy="154.63" r="2.04"/>
<circle cx="335.16" cy="154.51" r="2.04"/>
<circle cx="336.95" cy="154.40" r="2.04"/>
<circle cx="338.75" cy="154.39" r="2.04"/>
<circle cx="340.54" cy="154.49" r="2.04"/>
<circle cx="342.33" cy="154.61" r="2.04"/>
<circle cx="344.13" cy="154.74" r="2.04"/>
<circle cx="345.92" cy="154.89" r="2.04"/>
<circle cx="347.71" cy="155.05" r="2.04"/>
<circle cx="349.50" cy="155.23" r="2.04"/>
<circle cx="351.30" cy="155.43" r="2.04"/>
<circle cx="353.09" cy="155.64" r="2.04"/>
<circle cx="354.88" cy="155.88" r="2.04"/>
<circle cx="356.68" cy="156.13" r="2.04"/>
<circle cx="358.47" cy="156.40" r="2.04"/>
<circle cx="360.26" cy="156.70" r="2.04"/>
<circle cx="362.06" cy="157.01" r="2.04"/>
<circle cx="363.85" cy="157.35" r="2.04"/>
<circle cx="365.64" cy="157.72" r="2.04"/>
<circle cx="367.43" cy="158.11" r="2.04"/>
<circle cx="369.23" cy="158.52" r="2.04"/>
<circle cx="371.02" cy="158.97" r="2.04"/>
<circle cx="372.81" cy="159.45" r="2.04"/>
<circle cx="374.61" cy="159.96" r="2.04"/>
<circle cx="376.40" cy="160.50" r="2.04"/>
<circle cx="378.19" cy="161.09" r="2.04"/>
<circle cx="379.99" cy="161.72" r="2.04"/>
<circle cx="381.78" cy="162.39" r="2.04"/>
<circle cx="383.57" cy="163.11" r="2.04"/>
<circle cx="385.36" cy="163.89" r="2.04"/>
<circle cx="387.16" cy="164.73" r="2.04"/>
<circle cx="388.95" cy="165.64" r="2.04"/>
<circle cx="390.74" cy="166.63" r="2.04"/>
<circle cx="392.54" cy="167.70" r="2.04"/>
<circle cx="394.33" cy="168.89" r="2.04"/>
<circle cx="396.12" cy="170.19" r="2.04"/>
<circle cx="397.92" cy="171.64" r="2.04"/>
<circle cx="399.71" cy="173.25" r="2.04"/>
<circle cx="401.50" cy="175.06" r="2.04"/>
<circle cx="403.29" cy="177.14" r="2.04"/>
<circle cx="405.09" cy="179.57" r="2.04"/>
<circle cx="406.88" cy="182.50" r="2.04"/>
<circle cx="408.67" cy="186.14" r="2.04"/>
<circle cx="410.47" cy="191.16" r="2.04"/>
<circle cx="412.26" cy="199.35" r="2.04"/>
<circle cx="414.05" cy="223.78" r="2.04"/>
</g></g>
<path clip-path="url(#ci)" d="M261.50 298.20L261.50 295.54L261.50 292.89L261.50 290.24L261.50 287.58L261.50 284.93L261.50 282.27L261.51 279.62L261.51 276.96L261.51 274.31L261.51 271.66L261.51 269.00L261.52 266.35L261.52 263.69L261.52 261.04L261.53 258.38L261.53 255.73L261.54 253.08L261.55 250.42L261.56 247.77L261.58 245.11L261.59 242.46L261.61 239.80L261.64 237.15L261.66 234.50L261.70 231.84L261.74 229.19L261.80 226.53L261.86 223.88L261.94 221.22L262.03 218.57L262.14 215.92L262.28 213.26L262.45 210.61L262.65 207.95L262.90 205.30L263.21 202.65L263.57 199.99L264.02 197.34L264.56 194.69L265.30 191.75L266.04 189.34L266.77 187.29L267.51 185.52L268.25 183.95L268.99 182.55L269.73 181.28L270.46 180.12L271.20 179.05L271.94 178.07L272.68 177.16L273.42 176.30L274.16 175.50L274.89 174.75L275.63 174.04L276.37 173.36L277.11 172.72L277.85 172.12L278.58 171.54L279.32 170.99L280.06 170.46L280.80 169.96L281.54 169.48L282.27 169.01L283.01 168.57L283.75 168.14L284.49 167.73L285.23 167.33L285.96 166.95L286.70 166.58L287.44 166.22L288.18 165.88L288.92 165.55L289.66 165.22L290.39 164.91L291.13 164.61L291.87 164.32L292.61 164.04L293.35 163.76L294.08 163.50L294.82 163.24L295.56 162.99L296.30 162.75L297.04 162.52L297.77 162.29L298.51 162.07L299.25 161.85L299.99 161.65L300.73 161.45L301.46 161.25L302.20 161.06L302.94 160.88L303.68 160.70L304.42 160.53L305.15 160.36L305.89 160.20L306.63 160.04L307.37 159.89L308.11 159.74L308.85 159.59L309.58 159.46L310.32 159.32L311.06 159.19L311.80 159.07L312.54 158.95L313.27 158.83L314.01 158.72L314.75 158.61L315.49 158.50L316.23 158.40L316.96 158.31L317.70 158.21L318.44 158.12L319.18 158.04L319.92 157.95L320.65 157.88L321.39 157.80L322.13 157.73L322.87 157.66L323.61 157.60L324.35 157.54L325.08 157.48L325.82 157.42L326.56 157.37L327.30 157.32L328.04 157.28L328.77 157.24L329.51 157.20L330.25 157.17L330.99 157.13L331.73 157.11L332.46 157.08L333.20 157.06L333.94 157.04L334.68 157.02L335.42 157.01L336.15 157.00L336.89 157.00L337.63 156.99L338.37 156.99L339.11 157.00L339.85 157.00L340.58 157.01L341.32 157.02L342.06 157.04L342.80 157.06L343.54 157.08L344.27 157.11L345.01 157.13L345.75 157.17L346.49 157.20L347.23 157.24L347.96 157.28L348.70 157.32L349.44 157.37L350.18 157.42L350.92 157.48L351.65 157.54L352.39 157.60L353.13 157.66L353.87 157.73L354.61 157.80L355.35 157.88L356.08 157.95L356.82 158.04L357.56 158.12L358.30 158.21L359.04 158.31L359.77 158.40L360.51 158.50L361.25 158.61L361.99 158.72L362.73 158.83L363.46 158.95L364.20 159.07L364.94 159.19L365.68 159.32L366.42 159.46L367.15 159.59L367.89 159.74L368.63 159.89L369.37 160.04L370.11 160.20L370.85 160.36L371.58 160.53L372.32 160.70L373.06 160.88L373.80 161.06L374.54 161.25L375.27 161.45L376.01 161.65L376.75 161.85L377.49 162.07L378.23 162.29L378.96 162.52L379.70 162.75L380.44 162.99L381.18 163.24L381.92 163.50L382.65 163.76L383.39 164.04L384.13 164.32L384.87 164.61L385.61 164.91L386.34 165.22L387.08 165.55L387.82 165.88L388.56 166.22L389.30 166.58L390.04 166.95L390.77 167.33L391.51 167.73L392.25 168.14L392.99 168.57L393.73 169.01L394.46 169.48L395.20 169.96L395.94 170.46L396.68 170.99L397.42 171.54L398.15 172.12L398.89 172.72L399.63 173.36L400.37 174.04L401.11 174.75L401.84 175.50L402.58 176.30L403.32 177.16L404.06 178.07L404.80 179.05L405.54 180.12L406.27 181.28L407.01 182.55L407.75 183.95L408.49 185.52L409.23 187.29L409.96 189.34L410.70 191.75L411.44 194.69L411.98 197.34L412.43 199.99L412.79 202.65L413.10 205.30L413.35 207.95L413.55 210.61L413.72 213.26L413.86 215.92L413.97 218.57L414.06 221.22L414.14 223.88L414.20 226.53L414.26 229.19L414.30 231.84L414.34 234.50L414.36 237.15L414.39 239.80L414.41 242.46L414.42 245.11L414.44 247.77L414.45 250.42L414.46 253.08L414.47 255.73L414.47 258.38L414.48 261.04L414.48 263.69L414.48 266.35L414.49 269.00L414.49 271.66L414.49 274.31L414.49 276.96L414.49 279.62L414.50 282.27L414.50 284.93L414.50 287.58L414.50 290.24L414.50 292.89L414.50 295.54L414.50 298.20" stroke="#000" stroke-width="2.0"/>
</g>
<g stroke="#000" stroke-width="1.25" fill="none">
<rect x="261.50" y="123.00" width="153.00" height="114.40"/>
<path d="M261.50 237.40v-7.6M261.50 123.00v7.6M276.80 237.40v-3.8M276.80 123.00v3.8M292.10 237.40v-7.6M292.10 123.00v7.6M307.40 237.40v-3.8M307.40 123.00v3.8M322.70 237.40v-7.6M322.70 123.00v7.6M338.00 237.40v-3.8M338.00 123.00v3.8M353.30 237.40v-7.6M353.30 123.00v7.6M368.60 237.40v-3.8M368.60 123.00v3.8M383.90 237.40v-7.6M383.90 123.00v7.6M399.20 237.40v-3.8M399.20 123.00v3.8M414.50 237.40v-7.6M414.50 123.00v7.6M261.50 237.40h7.6M414.50 237.40h-7.6M261.50 229.23h3.8M414.50 229.23h-3.8M261.50 221.06h7.6M414.50 221.06h-7.6M261.50 212.89h3.8M414.50 212.89h-3.8M261.50 204.71h7.6M414.50 204.71h-7.6M261.50 196.54h3.8M414.50 196.54h-3.8M261.50 188.37h7.6M414.50 188.37h-7.6M261.50 180.20h3.8M414.50 180.20h-3.8M261.50 172.03h7.6M414.50 172.03h-7.6M261.50 163.86h3.8M414.50 163.86h-3.8M261.50 155.69h7.6M414.50 155.69h-7.6M261.50 147.51h3.8M414.50 147.51h-3.8M261.50 139.34h7.6M414.50 139.34h-7.6M261.50 131.17h3.8M414.50 131.17h-3.8M261.50 123.00h7.6M414.50 123.00h-7.6" stroke-width="1.05"/>
</g>
<g font-size="13" fill="#000">
<text transform="translate(261.50,248.8) scale(0.82,1)" text-anchor="middle">0</text>
<text transform="translate(292.10,248.8) scale(0.82,1)" text-anchor="middle">0.2</text>
<text transform="translate(322.70,248.8) scale(0.82,1)" text-anchor="middle">0.4</text>
<text transform="translate(353.30,248.8) scale(0.82,1)" text-anchor="middle">0.6</text>
<text transform="translate(383.90,248.8) scale(0.82,1)" text-anchor="middle">0.8</text>
<text transform="translate(414.50,248.8) scale(0.82,1)" text-anchor="middle">1</text>
<text transform="translate(258.2,241.70) scale(0.82,1)" text-anchor="end">0.6</text>
<text transform="translate(258.2,225.36) scale(0.82,1)" text-anchor="end">0.8</text>
<text transform="translate(258.2,209.01) scale(0.82,1)" text-anchor="end">1</text>
<text transform="translate(258.2,192.67) scale(0.82,1)" text-anchor="end">1.2</text>
<text transform="translate(258.2,176.33) scale(0.82,1)" text-anchor="end">1.4</text>
<text transform="translate(258.2,159.99) scale(0.82,1)" text-anchor="end">1.6</text>
<text transform="translate(258.2,143.64) scale(0.82,1)" text-anchor="end">1.8</text>
<text transform="translate(258.2,127.30) scale(0.82,1)" text-anchor="end">2</text>
</g>
<g font-size="15" font-style="italic" fill="#000"><text x="326.4" y="262.9">&#8467;</text><path d="M333.3 266.3L339.2 250.8" stroke="#000" stroke-width="0.95" fill="none"/><text transform="translate(341,262.9) scale(1.08,1)">L</text></g>
<g transform="translate(239.2,233) rotate(-90)" font-size="14.4" fill="#000">
<text transform="translate(-2.3,0) scale(1.15,1)" x="0" y="0" font-size="15">S</text><path d="M-1.5 -12.2H7.3" stroke="#000" stroke-width="0.9"/>
<text x="11.3" y="0">+</text>
<text x="32.4" y="-6.2" font-size="8.8" text-anchor="middle">ln 2</text>
<path d="M25.1 -4H39.7" stroke="#000" stroke-width="0.8"/>
<text x="32.4" y="3.9" font-size="8.8" text-anchor="middle">6</text>
<text x="41.5" y="0">log</text>
<text x="60.2" y="2.8" font-size="9.5">2</text>
<text x="65.2" y="0" letter-spacing="0.2">(512/<tspan font-style="italic">&#8467;</tspan>)</text>
</g>
</svg></body></html>
